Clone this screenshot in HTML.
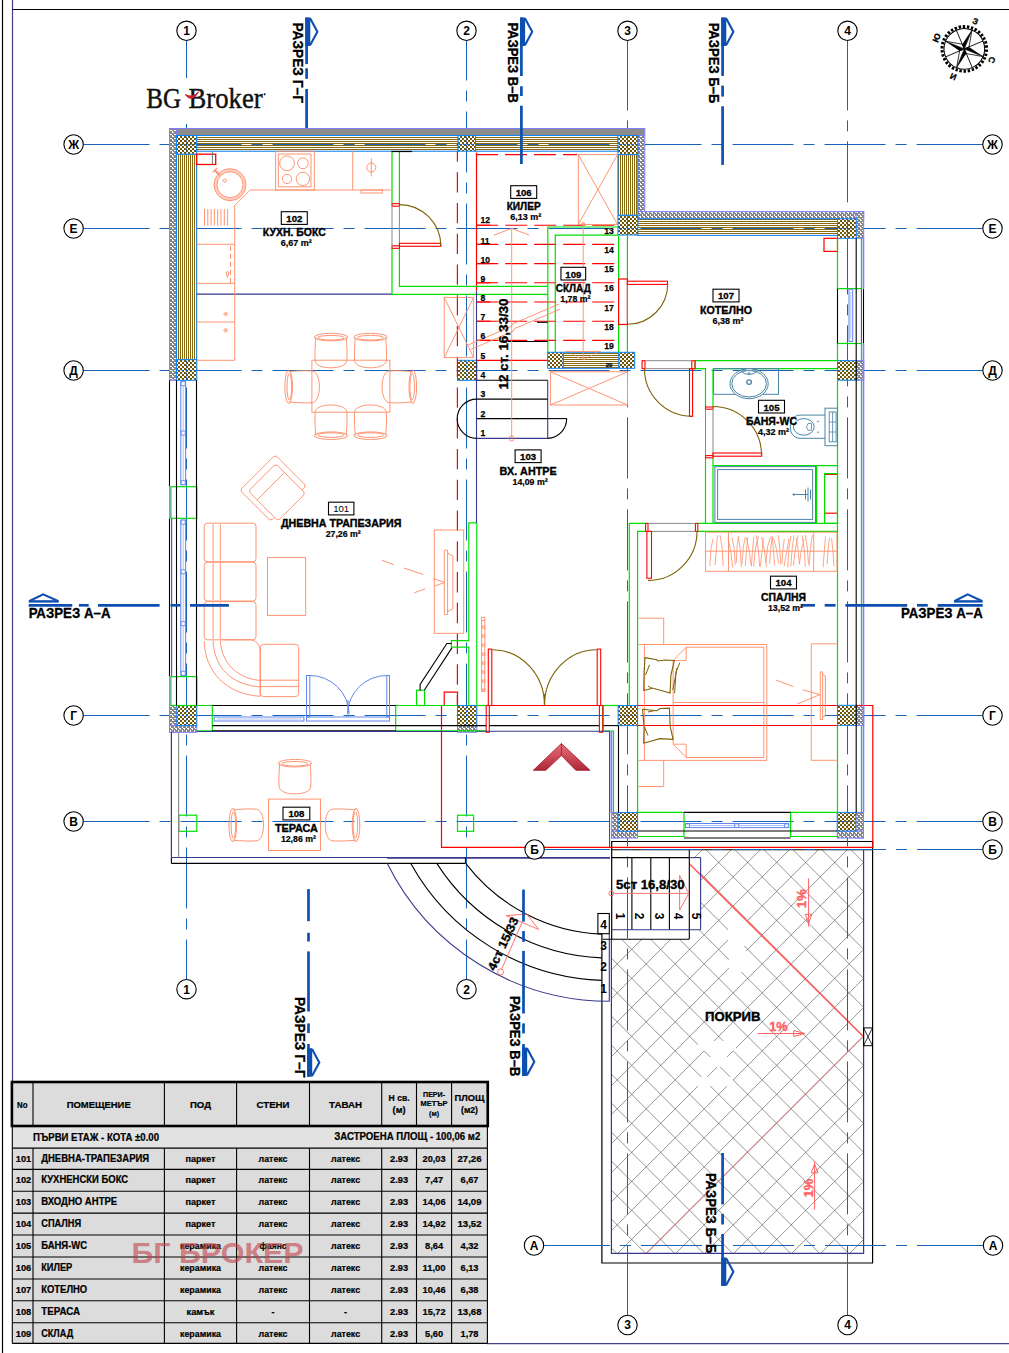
<!DOCTYPE html>
<html lang="bg"><head><meta charset="utf-8"><title>План първи етаж</title>
<style>
html,body{margin:0;padding:0;background:#fff;}
body{width:1009px;height:1353px;overflow:hidden;}
svg{display:block;}
svg text{font-family:"Liberation Sans",sans-serif;}
</style></head><body>
<svg width="1009" height="1353" viewBox="0 0 1009 1353">
<defs>
<pattern id="hs" width="2" height="2" patternUnits="userSpaceOnUse"><rect width="2" height="2" fill="#fff"/><rect y="1" width="2" height="1" fill="#8a6a10"/></pattern>
<pattern id="vs" width="2" height="2" patternUnits="userSpaceOnUse"><rect width="2" height="2" fill="#fff"/><rect x="0" width="1" height="2" fill="#8a6a10"/></pattern>
<pattern id="ck" width="4" height="4" patternUnits="userSpaceOnUse"><rect width="4" height="4" fill="#fff"/><rect width="2" height="2" fill="#735400"/><rect x="2" y="2" width="2" height="2" fill="#735400"/></pattern>
<pattern id="ins" width="4" height="4" patternUnits="userSpaceOnUse"><rect width="4" height="4" fill="#848484"/><rect x="0" y="0" width="1" height="2" fill="#fff"/><rect x="2" y="2" width="1" height="2" fill="#fff"/><rect x="3" y="0" width="1" height="1" fill="#fff"/></pattern>
<pattern id="insv" width="4" height="4" patternUnits="userSpaceOnUse"><rect width="4" height="4" fill="#848484"/><rect x="0" y="0" width="2" height="1" fill="#fff"/><rect x="2" y="2" width="2" height="1" fill="#fff"/><rect x="0" y="3" width="1" height="1" fill="#fff"/></pattern>
<linearGradient id="arr" x1="0" y1="0" x2="0" y2="1"><stop offset="0" stop-color="#e87078"/><stop offset="1" stop-color="#b02838"/></linearGradient>
</defs>
<line x1="2.5" y1="0" x2="2.5" y2="1353" stroke="#000" stroke-width="1.2" />
<line x1="12.5" y1="0" x2="12.5" y2="1082" stroke="#40408c" stroke-width="1.2" />
<line x1="12.5" y1="9.5" x2="1009" y2="9.5" stroke="#000" stroke-width="1.2" />
<line x1="487" y1="1343.6" x2="1009" y2="1343.6" stroke="#40408c" stroke-width="1.3" />
<clipPath id="rc"><path d="M689.3 850 L863.6 850 L863.6 1253.4 L611.4 1253.4 L611.4 939.2 L689.3 939.2 L689.3 929.7 L700.6 929.7 L700.6 857.6 L689.3 857.6 Z"/></clipPath>
<g clip-path="url(#rc)" stroke="#555" stroke-width="0.62">
<line x1="29.3" y1="840" x2="449.3" y2="1260"/>
<line x1="58.3" y1="840" x2="478.3" y2="1260"/>
<line x1="87.3" y1="840" x2="507.3" y2="1260"/>
<line x1="116.3" y1="840" x2="536.3" y2="1260"/>
<line x1="145.3" y1="840" x2="565.3" y2="1260"/>
<line x1="174.3" y1="840" x2="594.3" y2="1260"/>
<line x1="203.3" y1="840" x2="623.3" y2="1260"/>
<line x1="232.3" y1="840" x2="652.3" y2="1260"/>
<line x1="261.3" y1="840" x2="681.3" y2="1260"/>
<line x1="290.3" y1="840" x2="710.3" y2="1260"/>
<line x1="319.3" y1="840" x2="739.3" y2="1260"/>
<line x1="348.3" y1="840" x2="768.3" y2="1260"/>
<line x1="377.3" y1="840" x2="797.3" y2="1260"/>
<line x1="406.3" y1="840" x2="826.3" y2="1260"/>
<line x1="435.3" y1="840" x2="855.3" y2="1260"/>
<line x1="464.3" y1="840" x2="884.3" y2="1260"/>
<line x1="493.3" y1="840" x2="913.3" y2="1260"/>
<line x1="522.3" y1="840" x2="942.3" y2="1260"/>
<line x1="551.3" y1="840" x2="971.3" y2="1260"/>
<line x1="580.3" y1="840" x2="1000.3" y2="1260"/>
<line x1="609.3" y1="840" x2="1029.3" y2="1260"/>
<line x1="638.3" y1="840" x2="1058.3" y2="1260"/>
<line x1="667.3" y1="840" x2="1087.3" y2="1260"/>
<line x1="696.3" y1="840" x2="1116.3" y2="1260"/>
<line x1="725.3" y1="840" x2="1145.3" y2="1260"/>
<line x1="754.3" y1="840" x2="1174.3" y2="1260"/>
<line x1="783.3" y1="840" x2="1203.3" y2="1260"/>
<line x1="812.3" y1="840" x2="1232.3" y2="1260"/>
<line x1="841.3" y1="840" x2="1261.3" y2="1260"/>
<line x1="870.3" y1="840" x2="1290.3" y2="1260"/>
<line x1="899.3" y1="840" x2="1319.3" y2="1260"/>
<line x1="928.3" y1="840" x2="1348.3" y2="1260"/>
<line x1="509.1" y1="840" x2="89.1" y2="1260"/>
<line x1="538.1" y1="840" x2="118.1" y2="1260"/>
<line x1="567.1" y1="840" x2="147.1" y2="1260"/>
<line x1="596.1" y1="840" x2="176.1" y2="1260"/>
<line x1="625.1" y1="840" x2="205.1" y2="1260"/>
<line x1="654.1" y1="840" x2="234.1" y2="1260"/>
<line x1="683.1" y1="840" x2="263.1" y2="1260"/>
<line x1="712.1" y1="840" x2="292.1" y2="1260"/>
<line x1="741.1" y1="840" x2="321.1" y2="1260"/>
<line x1="770.1" y1="840" x2="350.1" y2="1260"/>
<line x1="799.1" y1="840" x2="379.1" y2="1260"/>
<line x1="828.1" y1="840" x2="408.1" y2="1260"/>
<line x1="857.1" y1="840" x2="437.1" y2="1260"/>
<line x1="886.1" y1="840" x2="466.1" y2="1260"/>
<line x1="915.1" y1="840" x2="495.1" y2="1260"/>
<line x1="944.1" y1="840" x2="524.1" y2="1260"/>
<line x1="973.1" y1="840" x2="553.1" y2="1260"/>
<line x1="1002.1" y1="840" x2="582.1" y2="1260"/>
<line x1="1031.1" y1="840" x2="611.1" y2="1260"/>
<line x1="1060.1" y1="840" x2="640.1" y2="1260"/>
<line x1="1089.1" y1="840" x2="669.1" y2="1260"/>
<line x1="1118.1" y1="840" x2="698.1" y2="1260"/>
<line x1="1147.1" y1="840" x2="727.1" y2="1260"/>
<line x1="1176.1" y1="840" x2="756.1" y2="1260"/>
<line x1="1205.1" y1="840" x2="785.1" y2="1260"/>
<line x1="1234.1" y1="840" x2="814.1" y2="1260"/>
<line x1="1263.1" y1="840" x2="843.1" y2="1260"/>
<line x1="1292.1" y1="840" x2="872.1" y2="1260"/>
<line x1="1321.1" y1="840" x2="901.1" y2="1260"/>
<line x1="1350.1" y1="840" x2="930.1" y2="1260"/>
</g>
<rect x="728" y="919" width="19" height="27" fill="#fff"/>
<rect x="729" y="950" width="17" height="22" fill="#fff"/>
<rect x="698" y="1041" width="38" height="10" fill="#fff"/>
<rect x="702" y="1057" width="32" height="10" fill="#fff"/>
<rect x="698" y="1077" width="35" height="9" fill="#fff"/>
<line x1="689.3" y1="863.7" x2="863" y2="1036.2" stroke="#ff5a5a" stroke-width="1.5" />
<line x1="863" y1="1036.2" x2="645.8" y2="1253.4" stroke="#ff8080" stroke-width="0.9" />
<path d="M611.7 939.2 L611.7 841.5 L872.6 841.5 L872.6 1263 L601.9 1263 L601.9 933.7" stroke="#000" stroke-width="1.2" fill="none" />
<line x1="611.7" y1="849.8" x2="872.6" y2="849.8" stroke="#000" stroke-width="1.1" />
<path d="M611.4 939.2 L611.4 1253.4 L863.6 1253.4 L863.6 849.8" stroke="#38388c" stroke-width="1.2" fill="none" />
<rect x="863.6" y="1027.9" width="8.9" height="17.8" stroke="#000" fill="none" stroke-width="1" />
<line x1="863.6" y1="1027.9" x2="872.5" y2="1045.7" stroke="#000" stroke-width="0.8" />
<line x1="872.5" y1="1027.9" x2="863.6" y2="1045.7" stroke="#000" stroke-width="0.8" />
<g>
<line x1="83.3" y1="144.5" x2="149.55" y2="144.5" stroke="#1763b8" stroke-width="1" />
<line x1="159.55" y1="144.5" x2="170.55" y2="144.5" stroke="#1763b8" stroke-width="1" />
<line x1="180.55" y1="144.5" x2="241.55" y2="144.5" stroke="#1763b8" stroke-width="1" />
<line x1="251.55" y1="144.5" x2="262.55" y2="144.5" stroke="#1763b8" stroke-width="1" />
<line x1="272.55" y1="144.5" x2="333.55" y2="144.5" stroke="#1763b8" stroke-width="1" />
<line x1="343.55" y1="144.5" x2="354.55" y2="144.5" stroke="#1763b8" stroke-width="1" />
<line x1="364.55" y1="144.5" x2="425.55" y2="144.5" stroke="#1763b8" stroke-width="1" />
<line x1="435.55" y1="144.5" x2="446.55" y2="144.5" stroke="#1763b8" stroke-width="1" />
<line x1="456.55" y1="144.5" x2="517.55" y2="144.5" stroke="#1763b8" stroke-width="1" />
<line x1="527.55" y1="144.5" x2="538.55" y2="144.5" stroke="#1763b8" stroke-width="1" />
<line x1="548.55" y1="144.5" x2="609.55" y2="144.5" stroke="#1763b8" stroke-width="1" />
<line x1="619.55" y1="144.5" x2="630.55" y2="144.5" stroke="#1763b8" stroke-width="1" />
<line x1="640.55" y1="144.5" x2="701.55" y2="144.5" stroke="#1763b8" stroke-width="1" />
<line x1="711.55" y1="144.5" x2="722.55" y2="144.5" stroke="#1763b8" stroke-width="1" />
<line x1="732.55" y1="144.5" x2="793.55" y2="144.5" stroke="#1763b8" stroke-width="1" />
<line x1="803.55" y1="144.5" x2="814.55" y2="144.5" stroke="#1763b8" stroke-width="1" />
<line x1="824.55" y1="144.5" x2="885.55" y2="144.5" stroke="#1763b8" stroke-width="1" />
<line x1="895.55" y1="144.5" x2="906.55" y2="144.5" stroke="#1763b8" stroke-width="1" />
<line x1="916.55" y1="144.5" x2="982.8" y2="144.5" stroke="#1763b8" stroke-width="1" />
<line x1="83.3" y1="228.5" x2="149.55" y2="228.5" stroke="#1763b8" stroke-width="1" />
<line x1="159.55" y1="228.5" x2="170.55" y2="228.5" stroke="#1763b8" stroke-width="1" />
<line x1="180.55" y1="228.5" x2="241.55" y2="228.5" stroke="#1763b8" stroke-width="1" />
<line x1="251.55" y1="228.5" x2="262.55" y2="228.5" stroke="#1763b8" stroke-width="1" />
<line x1="272.55" y1="228.5" x2="333.55" y2="228.5" stroke="#1763b8" stroke-width="1" />
<line x1="343.55" y1="228.5" x2="354.55" y2="228.5" stroke="#1763b8" stroke-width="1" />
<line x1="364.55" y1="228.5" x2="425.55" y2="228.5" stroke="#1763b8" stroke-width="1" />
<line x1="435.55" y1="228.5" x2="446.55" y2="228.5" stroke="#1763b8" stroke-width="1" />
<line x1="456.55" y1="228.5" x2="517.55" y2="228.5" stroke="#1763b8" stroke-width="1" />
<line x1="527.55" y1="228.5" x2="538.55" y2="228.5" stroke="#1763b8" stroke-width="1" />
<line x1="548.55" y1="228.5" x2="609.55" y2="228.5" stroke="#1763b8" stroke-width="1" />
<line x1="619.55" y1="228.5" x2="630.55" y2="228.5" stroke="#1763b8" stroke-width="1" />
<line x1="640.55" y1="228.5" x2="701.55" y2="228.5" stroke="#1763b8" stroke-width="1" />
<line x1="711.55" y1="228.5" x2="722.55" y2="228.5" stroke="#1763b8" stroke-width="1" />
<line x1="732.55" y1="228.5" x2="793.55" y2="228.5" stroke="#1763b8" stroke-width="1" />
<line x1="803.55" y1="228.5" x2="814.55" y2="228.5" stroke="#1763b8" stroke-width="1" />
<line x1="824.55" y1="228.5" x2="885.55" y2="228.5" stroke="#1763b8" stroke-width="1" />
<line x1="895.55" y1="228.5" x2="906.55" y2="228.5" stroke="#1763b8" stroke-width="1" />
<line x1="916.55" y1="228.5" x2="982.8" y2="228.5" stroke="#1763b8" stroke-width="1" />
<line x1="83.3" y1="370.5" x2="149.55" y2="370.5" stroke="#1763b8" stroke-width="1" />
<line x1="159.55" y1="370.5" x2="170.55" y2="370.5" stroke="#1763b8" stroke-width="1" />
<line x1="180.55" y1="370.5" x2="241.55" y2="370.5" stroke="#1763b8" stroke-width="1" />
<line x1="251.55" y1="370.5" x2="262.55" y2="370.5" stroke="#1763b8" stroke-width="1" />
<line x1="272.55" y1="370.5" x2="333.55" y2="370.5" stroke="#1763b8" stroke-width="1" />
<line x1="343.55" y1="370.5" x2="354.55" y2="370.5" stroke="#1763b8" stroke-width="1" />
<line x1="364.55" y1="370.5" x2="425.55" y2="370.5" stroke="#1763b8" stroke-width="1" />
<line x1="435.55" y1="370.5" x2="446.55" y2="370.5" stroke="#1763b8" stroke-width="1" />
<line x1="456.55" y1="370.5" x2="517.55" y2="370.5" stroke="#1763b8" stroke-width="1" />
<line x1="527.55" y1="370.5" x2="538.55" y2="370.5" stroke="#1763b8" stroke-width="1" />
<line x1="548.55" y1="370.5" x2="609.55" y2="370.5" stroke="#1763b8" stroke-width="1" />
<line x1="619.55" y1="370.5" x2="630.55" y2="370.5" stroke="#1763b8" stroke-width="1" />
<line x1="640.55" y1="370.5" x2="701.55" y2="370.5" stroke="#1763b8" stroke-width="1" />
<line x1="711.55" y1="370.5" x2="722.55" y2="370.5" stroke="#1763b8" stroke-width="1" />
<line x1="732.55" y1="370.5" x2="793.55" y2="370.5" stroke="#1763b8" stroke-width="1" />
<line x1="803.55" y1="370.5" x2="814.55" y2="370.5" stroke="#1763b8" stroke-width="1" />
<line x1="824.55" y1="370.5" x2="885.55" y2="370.5" stroke="#1763b8" stroke-width="1" />
<line x1="895.55" y1="370.5" x2="906.55" y2="370.5" stroke="#1763b8" stroke-width="1" />
<line x1="916.55" y1="370.5" x2="982.8" y2="370.5" stroke="#1763b8" stroke-width="1" />
<line x1="83.3" y1="715.5" x2="149.55" y2="715.5" stroke="#1763b8" stroke-width="1" />
<line x1="159.55" y1="715.5" x2="170.55" y2="715.5" stroke="#1763b8" stroke-width="1" />
<line x1="180.55" y1="715.5" x2="241.55" y2="715.5" stroke="#1763b8" stroke-width="1" />
<line x1="251.55" y1="715.5" x2="262.55" y2="715.5" stroke="#1763b8" stroke-width="1" />
<line x1="272.55" y1="715.5" x2="333.55" y2="715.5" stroke="#1763b8" stroke-width="1" />
<line x1="343.55" y1="715.5" x2="354.55" y2="715.5" stroke="#1763b8" stroke-width="1" />
<line x1="364.55" y1="715.5" x2="425.55" y2="715.5" stroke="#1763b8" stroke-width="1" />
<line x1="435.55" y1="715.5" x2="446.55" y2="715.5" stroke="#1763b8" stroke-width="1" />
<line x1="456.55" y1="715.5" x2="517.55" y2="715.5" stroke="#1763b8" stroke-width="1" />
<line x1="527.55" y1="715.5" x2="538.55" y2="715.5" stroke="#1763b8" stroke-width="1" />
<line x1="548.55" y1="715.5" x2="609.55" y2="715.5" stroke="#1763b8" stroke-width="1" />
<line x1="619.55" y1="715.5" x2="630.55" y2="715.5" stroke="#1763b8" stroke-width="1" />
<line x1="640.55" y1="715.5" x2="701.55" y2="715.5" stroke="#1763b8" stroke-width="1" />
<line x1="711.55" y1="715.5" x2="722.55" y2="715.5" stroke="#1763b8" stroke-width="1" />
<line x1="732.55" y1="715.5" x2="793.55" y2="715.5" stroke="#1763b8" stroke-width="1" />
<line x1="803.55" y1="715.5" x2="814.55" y2="715.5" stroke="#1763b8" stroke-width="1" />
<line x1="824.55" y1="715.5" x2="885.55" y2="715.5" stroke="#1763b8" stroke-width="1" />
<line x1="895.55" y1="715.5" x2="906.55" y2="715.5" stroke="#1763b8" stroke-width="1" />
<line x1="916.55" y1="715.5" x2="982.8" y2="715.5" stroke="#1763b8" stroke-width="1" />
<line x1="83.3" y1="821.5" x2="149.55" y2="821.5" stroke="#1763b8" stroke-width="1" />
<line x1="159.55" y1="821.5" x2="170.55" y2="821.5" stroke="#1763b8" stroke-width="1" />
<line x1="180.55" y1="821.5" x2="241.55" y2="821.5" stroke="#1763b8" stroke-width="1" />
<line x1="251.55" y1="821.5" x2="262.55" y2="821.5" stroke="#1763b8" stroke-width="1" />
<line x1="272.55" y1="821.5" x2="333.55" y2="821.5" stroke="#1763b8" stroke-width="1" />
<line x1="343.55" y1="821.5" x2="354.55" y2="821.5" stroke="#1763b8" stroke-width="1" />
<line x1="364.55" y1="821.5" x2="425.55" y2="821.5" stroke="#1763b8" stroke-width="1" />
<line x1="435.55" y1="821.5" x2="446.55" y2="821.5" stroke="#1763b8" stroke-width="1" />
<line x1="456.55" y1="821.5" x2="517.55" y2="821.5" stroke="#1763b8" stroke-width="1" />
<line x1="527.55" y1="821.5" x2="538.55" y2="821.5" stroke="#1763b8" stroke-width="1" />
<line x1="548.55" y1="821.5" x2="609.55" y2="821.5" stroke="#1763b8" stroke-width="1" />
<line x1="619.55" y1="821.5" x2="630.55" y2="821.5" stroke="#1763b8" stroke-width="1" />
<line x1="640.55" y1="821.5" x2="701.55" y2="821.5" stroke="#1763b8" stroke-width="1" />
<line x1="711.55" y1="821.5" x2="722.55" y2="821.5" stroke="#1763b8" stroke-width="1" />
<line x1="732.55" y1="821.5" x2="793.55" y2="821.5" stroke="#1763b8" stroke-width="1" />
<line x1="803.55" y1="821.5" x2="814.55" y2="821.5" stroke="#1763b8" stroke-width="1" />
<line x1="824.55" y1="821.5" x2="885.55" y2="821.5" stroke="#1763b8" stroke-width="1" />
<line x1="895.55" y1="821.5" x2="906.55" y2="821.5" stroke="#1763b8" stroke-width="1" />
<line x1="916.55" y1="821.5" x2="982.8" y2="821.5" stroke="#1763b8" stroke-width="1" />
<line x1="544.3" y1="849.5" x2="610.05" y2="849.5" stroke="#1763b8" stroke-width="1" />
<line x1="620.05" y1="849.5" x2="631.05" y2="849.5" stroke="#1763b8" stroke-width="1" />
<line x1="641.05" y1="849.5" x2="702.05" y2="849.5" stroke="#1763b8" stroke-width="1" />
<line x1="712.05" y1="849.5" x2="723.05" y2="849.5" stroke="#1763b8" stroke-width="1" />
<line x1="733.05" y1="849.5" x2="794.05" y2="849.5" stroke="#1763b8" stroke-width="1" />
<line x1="804.05" y1="849.5" x2="815.05" y2="849.5" stroke="#1763b8" stroke-width="1" />
<line x1="825.05" y1="849.5" x2="886.05" y2="849.5" stroke="#1763b8" stroke-width="1" />
<line x1="896.05" y1="849.5" x2="907.05" y2="849.5" stroke="#1763b8" stroke-width="1" />
<line x1="917.05" y1="849.5" x2="982.8" y2="849.5" stroke="#1763b8" stroke-width="1" />
<line x1="543.7" y1="1245.5" x2="610" y2="1245.5" stroke="#1763b8" stroke-width="1" />
<line x1="620" y1="1245.5" x2="631" y2="1245.5" stroke="#1763b8" stroke-width="1" />
<line x1="641" y1="1245.5" x2="702" y2="1245.5" stroke="#1763b8" stroke-width="1" />
<line x1="712" y1="1245.5" x2="723" y2="1245.5" stroke="#1763b8" stroke-width="1" />
<line x1="733" y1="1245.5" x2="794" y2="1245.5" stroke="#1763b8" stroke-width="1" />
<line x1="804" y1="1245.5" x2="815" y2="1245.5" stroke="#1763b8" stroke-width="1" />
<line x1="825" y1="1245.5" x2="886" y2="1245.5" stroke="#1763b8" stroke-width="1" />
<line x1="896" y1="1245.5" x2="907" y2="1245.5" stroke="#1763b8" stroke-width="1" />
<line x1="917" y1="1245.5" x2="983.3" y2="1245.5" stroke="#1763b8" stroke-width="1" />
<line x1="186.5" y1="40.5" x2="186.5" y2="80.5" stroke="#1763b8" stroke-width="1" />
<line x1="186.5" y1="90.5" x2="186.5" y2="101.5" stroke="#1763b8" stroke-width="1" />
<line x1="186.5" y1="111.5" x2="186.5" y2="172.5" stroke="#1763b8" stroke-width="1" />
<line x1="186.5" y1="182.5" x2="186.5" y2="193.5" stroke="#1763b8" stroke-width="1" />
<line x1="186.5" y1="203.5" x2="186.5" y2="264.5" stroke="#1763b8" stroke-width="1" />
<line x1="186.5" y1="274.5" x2="186.5" y2="285.5" stroke="#1763b8" stroke-width="1" />
<line x1="186.5" y1="295.5" x2="186.5" y2="356.5" stroke="#1763b8" stroke-width="1" />
<line x1="186.5" y1="366.5" x2="186.5" y2="377.5" stroke="#1763b8" stroke-width="1" />
<line x1="186.5" y1="387.5" x2="186.5" y2="448.5" stroke="#1763b8" stroke-width="1" />
<line x1="186.5" y1="458.5" x2="186.5" y2="469.5" stroke="#1763b8" stroke-width="1" />
<line x1="186.5" y1="479.5" x2="186.5" y2="540.5" stroke="#1763b8" stroke-width="1" />
<line x1="186.5" y1="550.5" x2="186.5" y2="561.5" stroke="#1763b8" stroke-width="1" />
<line x1="186.5" y1="571.5" x2="186.5" y2="632.5" stroke="#1763b8" stroke-width="1" />
<line x1="186.5" y1="642.5" x2="186.5" y2="653.5" stroke="#1763b8" stroke-width="1" />
<line x1="186.5" y1="663.5" x2="186.5" y2="724.5" stroke="#1763b8" stroke-width="1" />
<line x1="186.5" y1="734.5" x2="186.5" y2="745.5" stroke="#1763b8" stroke-width="1" />
<line x1="186.5" y1="755.5" x2="186.5" y2="816.5" stroke="#1763b8" stroke-width="1" />
<line x1="186.5" y1="826.5" x2="186.5" y2="837.5" stroke="#1763b8" stroke-width="1" />
<line x1="186.5" y1="847.5" x2="186.5" y2="908.5" stroke="#1763b8" stroke-width="1" />
<line x1="186.5" y1="918.5" x2="186.5" y2="929.5" stroke="#1763b8" stroke-width="1" />
<line x1="186.5" y1="939.5" x2="186.5" y2="979.5" stroke="#1763b8" stroke-width="1" />
<line x1="466.5" y1="40.5" x2="466.5" y2="80.5" stroke="#1763b8" stroke-width="1" />
<line x1="466.5" y1="90.5" x2="466.5" y2="101.5" stroke="#1763b8" stroke-width="1" />
<line x1="466.5" y1="111.5" x2="466.5" y2="172.5" stroke="#1763b8" stroke-width="1" />
<line x1="466.5" y1="182.5" x2="466.5" y2="193.5" stroke="#1763b8" stroke-width="1" />
<line x1="466.5" y1="203.5" x2="466.5" y2="264.5" stroke="#1763b8" stroke-width="1" />
<line x1="466.5" y1="274.5" x2="466.5" y2="285.5" stroke="#1763b8" stroke-width="1" />
<line x1="466.5" y1="295.5" x2="466.5" y2="356.5" stroke="#1763b8" stroke-width="1" />
<line x1="466.5" y1="366.5" x2="466.5" y2="377.5" stroke="#1763b8" stroke-width="1" />
<line x1="466.5" y1="387.5" x2="466.5" y2="448.5" stroke="#1763b8" stroke-width="1" />
<line x1="466.5" y1="458.5" x2="466.5" y2="469.5" stroke="#1763b8" stroke-width="1" />
<line x1="466.5" y1="479.5" x2="466.5" y2="540.5" stroke="#1763b8" stroke-width="1" />
<line x1="466.5" y1="550.5" x2="466.5" y2="561.5" stroke="#1763b8" stroke-width="1" />
<line x1="466.5" y1="571.5" x2="466.5" y2="632.5" stroke="#1763b8" stroke-width="1" />
<line x1="466.5" y1="642.5" x2="466.5" y2="653.5" stroke="#1763b8" stroke-width="1" />
<line x1="466.5" y1="663.5" x2="466.5" y2="724.5" stroke="#1763b8" stroke-width="1" />
<line x1="466.5" y1="734.5" x2="466.5" y2="745.5" stroke="#1763b8" stroke-width="1" />
<line x1="466.5" y1="755.5" x2="466.5" y2="816.5" stroke="#1763b8" stroke-width="1" />
<line x1="466.5" y1="826.5" x2="466.5" y2="837.5" stroke="#1763b8" stroke-width="1" />
<line x1="466.5" y1="847.5" x2="466.5" y2="908.5" stroke="#1763b8" stroke-width="1" />
<line x1="466.5" y1="918.5" x2="466.5" y2="929.5" stroke="#1763b8" stroke-width="1" />
<line x1="466.5" y1="939.5" x2="466.5" y2="979.5" stroke="#1763b8" stroke-width="1" />
<line x1="627.5" y1="40.5" x2="627.5" y2="110.4" stroke="#1763b8" stroke-width="1" />
<line x1="627.5" y1="120.4" x2="627.5" y2="131.4" stroke="#1763b8" stroke-width="1" />
<line x1="627.5" y1="141.4" x2="627.5" y2="202.4" stroke="#1763b8" stroke-width="1" />
<line x1="627.5" y1="212.4" x2="627.5" y2="223.4" stroke="#1763b8" stroke-width="1" />
<line x1="627.5" y1="233.4" x2="627.5" y2="294.4" stroke="#1763b8" stroke-width="1" />
<line x1="627.5" y1="304.4" x2="627.5" y2="315.4" stroke="#1763b8" stroke-width="1" />
<line x1="627.5" y1="325.4" x2="627.5" y2="386.4" stroke="#1763b8" stroke-width="1" />
<line x1="627.5" y1="396.4" x2="627.5" y2="407.4" stroke="#1763b8" stroke-width="1" />
<line x1="627.5" y1="417.4" x2="627.5" y2="478.4" stroke="#1763b8" stroke-width="1" />
<line x1="627.5" y1="488.4" x2="627.5" y2="499.4" stroke="#1763b8" stroke-width="1" />
<line x1="627.5" y1="509.4" x2="627.5" y2="570.4" stroke="#1763b8" stroke-width="1" />
<line x1="627.5" y1="580.4" x2="627.5" y2="591.4" stroke="#1763b8" stroke-width="1" />
<line x1="627.5" y1="601.4" x2="627.5" y2="662.4" stroke="#1763b8" stroke-width="1" />
<line x1="627.5" y1="672.4" x2="627.5" y2="683.4" stroke="#1763b8" stroke-width="1" />
<line x1="627.5" y1="693.4" x2="627.5" y2="754.4" stroke="#1763b8" stroke-width="1" />
<line x1="627.5" y1="764.4" x2="627.5" y2="775.4" stroke="#1763b8" stroke-width="1" />
<line x1="627.5" y1="785.4" x2="627.5" y2="846.4" stroke="#1763b8" stroke-width="1" />
<line x1="627.5" y1="856.4" x2="627.5" y2="867.4" stroke="#1763b8" stroke-width="1" />
<line x1="627.5" y1="877.4" x2="627.5" y2="938.4" stroke="#1763b8" stroke-width="1" />
<line x1="627.5" y1="948.4" x2="627.5" y2="959.4" stroke="#1763b8" stroke-width="1" />
<line x1="627.5" y1="969.4" x2="627.5" y2="1030.4" stroke="#1763b8" stroke-width="1" />
<line x1="627.5" y1="1040.4" x2="627.5" y2="1051.4" stroke="#1763b8" stroke-width="1" />
<line x1="627.5" y1="1061.4" x2="627.5" y2="1122.4" stroke="#1763b8" stroke-width="1" />
<line x1="627.5" y1="1132.4" x2="627.5" y2="1143.4" stroke="#1763b8" stroke-width="1" />
<line x1="627.5" y1="1153.4" x2="627.5" y2="1214.4" stroke="#1763b8" stroke-width="1" />
<line x1="627.5" y1="1224.4" x2="627.5" y2="1235.4" stroke="#1763b8" stroke-width="1" />
<line x1="627.5" y1="1245.4" x2="627.5" y2="1315.3" stroke="#1763b8" stroke-width="1" />
<line x1="847.5" y1="40.5" x2="847.5" y2="110.4" stroke="#1763b8" stroke-width="1" />
<line x1="847.5" y1="120.4" x2="847.5" y2="131.4" stroke="#1763b8" stroke-width="1" />
<line x1="847.5" y1="141.4" x2="847.5" y2="202.4" stroke="#1763b8" stroke-width="1" />
<line x1="847.5" y1="212.4" x2="847.5" y2="223.4" stroke="#1763b8" stroke-width="1" />
<line x1="847.5" y1="233.4" x2="847.5" y2="294.4" stroke="#1763b8" stroke-width="1" />
<line x1="847.5" y1="304.4" x2="847.5" y2="315.4" stroke="#1763b8" stroke-width="1" />
<line x1="847.5" y1="325.4" x2="847.5" y2="386.4" stroke="#1763b8" stroke-width="1" />
<line x1="847.5" y1="396.4" x2="847.5" y2="407.4" stroke="#1763b8" stroke-width="1" />
<line x1="847.5" y1="417.4" x2="847.5" y2="478.4" stroke="#1763b8" stroke-width="1" />
<line x1="847.5" y1="488.4" x2="847.5" y2="499.4" stroke="#1763b8" stroke-width="1" />
<line x1="847.5" y1="509.4" x2="847.5" y2="570.4" stroke="#1763b8" stroke-width="1" />
<line x1="847.5" y1="580.4" x2="847.5" y2="591.4" stroke="#1763b8" stroke-width="1" />
<line x1="847.5" y1="601.4" x2="847.5" y2="662.4" stroke="#1763b8" stroke-width="1" />
<line x1="847.5" y1="672.4" x2="847.5" y2="683.4" stroke="#1763b8" stroke-width="1" />
<line x1="847.5" y1="693.4" x2="847.5" y2="754.4" stroke="#1763b8" stroke-width="1" />
<line x1="847.5" y1="764.4" x2="847.5" y2="775.4" stroke="#1763b8" stroke-width="1" />
<line x1="847.5" y1="785.4" x2="847.5" y2="846.4" stroke="#1763b8" stroke-width="1" />
<line x1="847.5" y1="856.4" x2="847.5" y2="867.4" stroke="#1763b8" stroke-width="1" />
<line x1="847.5" y1="877.4" x2="847.5" y2="938.4" stroke="#1763b8" stroke-width="1" />
<line x1="847.5" y1="948.4" x2="847.5" y2="959.4" stroke="#1763b8" stroke-width="1" />
<line x1="847.5" y1="969.4" x2="847.5" y2="1030.4" stroke="#1763b8" stroke-width="1" />
<line x1="847.5" y1="1040.4" x2="847.5" y2="1051.4" stroke="#1763b8" stroke-width="1" />
<line x1="847.5" y1="1061.4" x2="847.5" y2="1122.4" stroke="#1763b8" stroke-width="1" />
<line x1="847.5" y1="1132.4" x2="847.5" y2="1143.4" stroke="#1763b8" stroke-width="1" />
<line x1="847.5" y1="1153.4" x2="847.5" y2="1214.4" stroke="#1763b8" stroke-width="1" />
<line x1="847.5" y1="1224.4" x2="847.5" y2="1235.4" stroke="#1763b8" stroke-width="1" />
<line x1="847.5" y1="1245.4" x2="847.5" y2="1315.3" stroke="#1763b8" stroke-width="1" />
</g>
<rect x="169.5" y="128.5" width="475.3" height="7" fill="#8c8c8c" stroke="#8080ff"/>
<rect x="169.5" y="128.5" width="7" height="251.8" stroke="#8080ff" fill="url(#insv)" stroke-width="1" />
<rect x="638" y="135.5" width="6.8" height="82.5" stroke="#8080ff" fill="url(#insv)" stroke-width="1" />
<rect x="638" y="211.6" width="225.7" height="6.9" stroke="#8080ff" fill="url(#ins)" stroke-width="1" />
<rect x="856.2" y="211.6" width="7.5" height="26.7" stroke="#8080ff" fill="url(#insv)" stroke-width="1" />
<rect x="856.2" y="360.6" width="7.5" height="19.6" stroke="#8080ff" fill="url(#insv)" stroke-width="1" />
<rect x="856.2" y="705.3" width="7.5" height="20.1" stroke="#8080ff" fill="url(#insv)" stroke-width="1" />
<rect x="855.8" y="812.4" width="7.7" height="25.6" stroke="#8080ff" fill="url(#insv)" stroke-width="1" />
<rect x="837.2" y="831" width="26.3" height="7" stroke="#8080ff" fill="url(#ins)" stroke-width="1" />
<rect x="611.7" y="812.4" width="6.3" height="25.6" stroke="#8080ff" fill="url(#insv)" stroke-width="1" />
<rect x="611.7" y="831" width="25.8" height="7" stroke="#8080ff" fill="url(#ins)" stroke-width="1" />
<rect x="169.5" y="705.5" width="7.3" height="26.8" stroke="#8080ff" fill="url(#insv)" stroke-width="1" />
<rect x="169.5" y="725.6" width="27.3" height="6.7" stroke="#8080ff" fill="url(#ins)" stroke-width="1" />
<rect x="457.5" y="725.6" width="19.3" height="6.7" stroke="#8080ff" fill="url(#ins)" stroke-width="1" />
<rect x="196.6" y="135.5" width="261.5" height="15.7" stroke="#0a84ff" fill="url(#hs)" stroke-width="1" />
<rect x="475.5" y="135.5" width="142.5" height="15.7" stroke="#0a84ff" fill="url(#hs)" stroke-width="1" />
<rect x="176.5" y="154.2" width="20.2" height="205.5" stroke="#0a84ff" fill="url(#vs)" stroke-width="1" />
<rect x="618" y="154.6" width="19.8" height="60.7" stroke="#0a84ff" fill="url(#vs)" stroke-width="1" />
<rect x="637.6" y="218.8" width="199.9" height="16.6" stroke="#0a84ff" fill="url(#hs)" stroke-width="1" />
<rect x="563.2" y="352.3" width="55.7" height="16" stroke="#0a84ff" fill="url(#hs)" stroke-width="1" />
<rect x="176.5" y="135.5" width="20.1" height="18.7" stroke="#0a84ff" fill="url(#ck)" stroke-width="1" />
<rect x="458.1" y="135.5" width="17.4" height="15.7" stroke="#0a84ff" fill="url(#ck)" stroke-width="1" />
<rect x="618" y="135.5" width="19.8" height="19.1" stroke="#0a84ff" fill="url(#ck)" stroke-width="1" />
<rect x="618" y="215.3" width="19.8" height="19.7" stroke="#0a84ff" fill="url(#ck)" stroke-width="1" />
<rect x="837.5" y="218.8" width="18.7" height="19.5" stroke="#0a84ff" fill="url(#ck)" stroke-width="1" />
<rect x="176.5" y="359.7" width="20.3" height="20.6" stroke="#0a84ff" fill="url(#ck)" stroke-width="1" />
<rect x="457.5" y="360.3" width="19.3" height="20" stroke="#0a84ff" fill="url(#ck)" stroke-width="1" />
<rect x="547.7" y="352.3" width="15.5" height="16" stroke="#0a84ff" fill="url(#ck)" stroke-width="1" />
<rect x="618.9" y="352.3" width="15.8" height="16" stroke="#0a84ff" fill="url(#ck)" stroke-width="1" />
<rect x="837.5" y="360.6" width="18.7" height="19.6" stroke="#0a84ff" fill="url(#ck)" stroke-width="1" />
<rect x="176.8" y="705.5" width="20" height="20.1" stroke="#0a84ff" fill="url(#ck)" stroke-width="1" />
<rect x="457.5" y="705.5" width="19.3" height="20.1" stroke="#0a84ff" fill="url(#ck)" stroke-width="1" />
<rect x="618.1" y="705.5" width="19.5" height="20.1" stroke="#0a84ff" fill="url(#ck)" stroke-width="1" />
<rect x="837.5" y="705.3" width="18.7" height="20.1" stroke="#0a84ff" fill="url(#ck)" stroke-width="1" />
<rect x="618.1" y="812.5" width="19.5" height="18.8" stroke="#0a84ff" fill="url(#ck)" stroke-width="1" />
<rect x="837.2" y="812.4" width="18.6" height="18.6" stroke="#0a84ff" fill="url(#ck)" stroke-width="1" />
<line x1="186.5" y1="136.5" x2="186.5" y2="153.2" stroke="#1763b8" stroke-width="1" stroke-dasharray="2 2"/>
<line x1="177.5" y1="144.5" x2="195.6" y2="144.5" stroke="#1763b8" stroke-width="1" stroke-dasharray="2 2"/>
<line x1="466.5" y1="136.5" x2="466.5" y2="150.2" stroke="#1763b8" stroke-width="1" stroke-dasharray="2 2"/>
<line x1="459.1" y1="144.5" x2="474.5" y2="144.5" stroke="#1763b8" stroke-width="1" stroke-dasharray="2 2"/>
<line x1="627.5" y1="136.5" x2="627.5" y2="153.6" stroke="#1763b8" stroke-width="1" stroke-dasharray="2 2"/>
<line x1="619" y1="144.5" x2="636.8" y2="144.5" stroke="#1763b8" stroke-width="1" stroke-dasharray="2 2"/>
<line x1="627.5" y1="216.3" x2="627.5" y2="234" stroke="#1763b8" stroke-width="1" stroke-dasharray="2 2"/>
<line x1="619" y1="228.5" x2="636.8" y2="228.5" stroke="#1763b8" stroke-width="1" stroke-dasharray="2 2"/>
<line x1="847.5" y1="219.8" x2="847.5" y2="237.3" stroke="#1763b8" stroke-width="1" stroke-dasharray="2 2"/>
<line x1="838.5" y1="228.5" x2="855.2" y2="228.5" stroke="#1763b8" stroke-width="1" stroke-dasharray="2 2"/>
<line x1="186.5" y1="360.7" x2="186.5" y2="379.3" stroke="#1763b8" stroke-width="1" stroke-dasharray="2 2"/>
<line x1="177.5" y1="370.5" x2="195.8" y2="370.5" stroke="#1763b8" stroke-width="1" stroke-dasharray="2 2"/>
<line x1="466.5" y1="361.3" x2="466.5" y2="379.3" stroke="#1763b8" stroke-width="1" stroke-dasharray="2 2"/>
<line x1="458.5" y1="370.5" x2="475.8" y2="370.5" stroke="#1763b8" stroke-width="1" stroke-dasharray="2 2"/>
<line x1="627.5" y1="353.3" x2="627.5" y2="367.3" stroke="#1763b8" stroke-width="1" stroke-dasharray="2 2"/>
<line x1="847.5" y1="361.6" x2="847.5" y2="379.2" stroke="#1763b8" stroke-width="1" stroke-dasharray="2 2"/>
<line x1="838.5" y1="370.5" x2="855.2" y2="370.5" stroke="#1763b8" stroke-width="1" stroke-dasharray="2 2"/>
<line x1="186.5" y1="706.5" x2="186.5" y2="724.6" stroke="#1763b8" stroke-width="1" stroke-dasharray="2 2"/>
<line x1="177.8" y1="715.5" x2="195.8" y2="715.5" stroke="#1763b8" stroke-width="1" stroke-dasharray="2 2"/>
<line x1="466.5" y1="706.5" x2="466.5" y2="724.6" stroke="#1763b8" stroke-width="1" stroke-dasharray="2 2"/>
<line x1="458.5" y1="715.5" x2="475.8" y2="715.5" stroke="#1763b8" stroke-width="1" stroke-dasharray="2 2"/>
<line x1="627.5" y1="706.5" x2="627.5" y2="724.6" stroke="#1763b8" stroke-width="1" stroke-dasharray="2 2"/>
<line x1="619.1" y1="715.5" x2="636.6" y2="715.5" stroke="#1763b8" stroke-width="1" stroke-dasharray="2 2"/>
<line x1="847.5" y1="706.3" x2="847.5" y2="724.4" stroke="#1763b8" stroke-width="1" stroke-dasharray="2 2"/>
<line x1="838.5" y1="715.5" x2="855.2" y2="715.5" stroke="#1763b8" stroke-width="1" stroke-dasharray="2 2"/>
<line x1="627.5" y1="813.5" x2="627.5" y2="830.3" stroke="#1763b8" stroke-width="1" stroke-dasharray="2 2"/>
<line x1="619.1" y1="821.5" x2="636.6" y2="821.5" stroke="#1763b8" stroke-width="1" stroke-dasharray="2 2"/>
<line x1="847.5" y1="813.4" x2="847.5" y2="830" stroke="#1763b8" stroke-width="1" stroke-dasharray="2 2"/>
<line x1="838.2" y1="821.5" x2="854.8" y2="821.5" stroke="#1763b8" stroke-width="1" stroke-dasharray="2 2"/>
<clipPath id="hw"><rect x="196.6" y="136" width="261.5" height="14.7"/><rect x="475.5" y="136" width="142.5" height="14.7"/><rect x="637.6" y="219.3" width="199.9" height="15.6"/><rect x="563.2" y="352.8" width="55.7" height="15"/></clipPath>
<line x1="197.1" y1="144.5" x2="457.6" y2="144.5" stroke="#fff" stroke-width="1" />
<line x1="476" y1="144.5" x2="617.5" y2="144.5" stroke="#fff" stroke-width="1" />
<line x1="638.1" y1="228.5" x2="837" y2="228.5" stroke="#fff" stroke-width="1" />
<g clip-path="url(#hw)">
<line x1="83.3" y1="144.5" x2="149.55" y2="144.5" stroke="#1763b8" stroke-width="1" />
<line x1="159.55" y1="144.5" x2="170.55" y2="144.5" stroke="#1763b8" stroke-width="1" />
<line x1="180.55" y1="144.5" x2="241.55" y2="144.5" stroke="#1763b8" stroke-width="1" />
<line x1="251.55" y1="144.5" x2="262.55" y2="144.5" stroke="#1763b8" stroke-width="1" />
<line x1="272.55" y1="144.5" x2="333.55" y2="144.5" stroke="#1763b8" stroke-width="1" />
<line x1="343.55" y1="144.5" x2="354.55" y2="144.5" stroke="#1763b8" stroke-width="1" />
<line x1="364.55" y1="144.5" x2="425.55" y2="144.5" stroke="#1763b8" stroke-width="1" />
<line x1="435.55" y1="144.5" x2="446.55" y2="144.5" stroke="#1763b8" stroke-width="1" />
<line x1="456.55" y1="144.5" x2="517.55" y2="144.5" stroke="#1763b8" stroke-width="1" />
<line x1="527.55" y1="144.5" x2="538.55" y2="144.5" stroke="#1763b8" stroke-width="1" />
<line x1="548.55" y1="144.5" x2="609.55" y2="144.5" stroke="#1763b8" stroke-width="1" />
<line x1="619.55" y1="144.5" x2="630.55" y2="144.5" stroke="#1763b8" stroke-width="1" />
<line x1="640.55" y1="144.5" x2="701.55" y2="144.5" stroke="#1763b8" stroke-width="1" />
<line x1="711.55" y1="144.5" x2="722.55" y2="144.5" stroke="#1763b8" stroke-width="1" />
<line x1="732.55" y1="144.5" x2="793.55" y2="144.5" stroke="#1763b8" stroke-width="1" />
<line x1="803.55" y1="144.5" x2="814.55" y2="144.5" stroke="#1763b8" stroke-width="1" />
<line x1="824.55" y1="144.5" x2="885.55" y2="144.5" stroke="#1763b8" stroke-width="1" />
<line x1="895.55" y1="144.5" x2="906.55" y2="144.5" stroke="#1763b8" stroke-width="1" />
<line x1="916.55" y1="144.5" x2="982.8" y2="144.5" stroke="#1763b8" stroke-width="1" />
<line x1="83.3" y1="228.5" x2="149.55" y2="228.5" stroke="#1763b8" stroke-width="1" />
<line x1="159.55" y1="228.5" x2="170.55" y2="228.5" stroke="#1763b8" stroke-width="1" />
<line x1="180.55" y1="228.5" x2="241.55" y2="228.5" stroke="#1763b8" stroke-width="1" />
<line x1="251.55" y1="228.5" x2="262.55" y2="228.5" stroke="#1763b8" stroke-width="1" />
<line x1="272.55" y1="228.5" x2="333.55" y2="228.5" stroke="#1763b8" stroke-width="1" />
<line x1="343.55" y1="228.5" x2="354.55" y2="228.5" stroke="#1763b8" stroke-width="1" />
<line x1="364.55" y1="228.5" x2="425.55" y2="228.5" stroke="#1763b8" stroke-width="1" />
<line x1="435.55" y1="228.5" x2="446.55" y2="228.5" stroke="#1763b8" stroke-width="1" />
<line x1="456.55" y1="228.5" x2="517.55" y2="228.5" stroke="#1763b8" stroke-width="1" />
<line x1="527.55" y1="228.5" x2="538.55" y2="228.5" stroke="#1763b8" stroke-width="1" />
<line x1="548.55" y1="228.5" x2="609.55" y2="228.5" stroke="#1763b8" stroke-width="1" />
<line x1="619.55" y1="228.5" x2="630.55" y2="228.5" stroke="#1763b8" stroke-width="1" />
<line x1="640.55" y1="228.5" x2="701.55" y2="228.5" stroke="#1763b8" stroke-width="1" />
<line x1="711.55" y1="228.5" x2="722.55" y2="228.5" stroke="#1763b8" stroke-width="1" />
<line x1="732.55" y1="228.5" x2="793.55" y2="228.5" stroke="#1763b8" stroke-width="1" />
<line x1="803.55" y1="228.5" x2="814.55" y2="228.5" stroke="#1763b8" stroke-width="1" />
<line x1="824.55" y1="228.5" x2="885.55" y2="228.5" stroke="#1763b8" stroke-width="1" />
<line x1="895.55" y1="228.5" x2="906.55" y2="228.5" stroke="#1763b8" stroke-width="1" />
<line x1="916.55" y1="228.5" x2="982.8" y2="228.5" stroke="#1763b8" stroke-width="1" />
<line x1="83.3" y1="370.5" x2="149.55" y2="370.5" stroke="#1763b8" stroke-width="1" />
<line x1="159.55" y1="370.5" x2="170.55" y2="370.5" stroke="#1763b8" stroke-width="1" />
<line x1="180.55" y1="370.5" x2="241.55" y2="370.5" stroke="#1763b8" stroke-width="1" />
<line x1="251.55" y1="370.5" x2="262.55" y2="370.5" stroke="#1763b8" stroke-width="1" />
<line x1="272.55" y1="370.5" x2="333.55" y2="370.5" stroke="#1763b8" stroke-width="1" />
<line x1="343.55" y1="370.5" x2="354.55" y2="370.5" stroke="#1763b8" stroke-width="1" />
<line x1="364.55" y1="370.5" x2="425.55" y2="370.5" stroke="#1763b8" stroke-width="1" />
<line x1="435.55" y1="370.5" x2="446.55" y2="370.5" stroke="#1763b8" stroke-width="1" />
<line x1="456.55" y1="370.5" x2="517.55" y2="370.5" stroke="#1763b8" stroke-width="1" />
<line x1="527.55" y1="370.5" x2="538.55" y2="370.5" stroke="#1763b8" stroke-width="1" />
<line x1="548.55" y1="370.5" x2="609.55" y2="370.5" stroke="#1763b8" stroke-width="1" />
<line x1="619.55" y1="370.5" x2="630.55" y2="370.5" stroke="#1763b8" stroke-width="1" />
<line x1="640.55" y1="370.5" x2="701.55" y2="370.5" stroke="#1763b8" stroke-width="1" />
<line x1="711.55" y1="370.5" x2="722.55" y2="370.5" stroke="#1763b8" stroke-width="1" />
<line x1="732.55" y1="370.5" x2="793.55" y2="370.5" stroke="#1763b8" stroke-width="1" />
<line x1="803.55" y1="370.5" x2="814.55" y2="370.5" stroke="#1763b8" stroke-width="1" />
<line x1="824.55" y1="370.5" x2="885.55" y2="370.5" stroke="#1763b8" stroke-width="1" />
<line x1="895.55" y1="370.5" x2="906.55" y2="370.5" stroke="#1763b8" stroke-width="1" />
<line x1="916.55" y1="370.5" x2="982.8" y2="370.5" stroke="#1763b8" stroke-width="1" />
<line x1="83.3" y1="715.5" x2="149.55" y2="715.5" stroke="#1763b8" stroke-width="1" />
<line x1="159.55" y1="715.5" x2="170.55" y2="715.5" stroke="#1763b8" stroke-width="1" />
<line x1="180.55" y1="715.5" x2="241.55" y2="715.5" stroke="#1763b8" stroke-width="1" />
<line x1="251.55" y1="715.5" x2="262.55" y2="715.5" stroke="#1763b8" stroke-width="1" />
<line x1="272.55" y1="715.5" x2="333.55" y2="715.5" stroke="#1763b8" stroke-width="1" />
<line x1="343.55" y1="715.5" x2="354.55" y2="715.5" stroke="#1763b8" stroke-width="1" />
<line x1="364.55" y1="715.5" x2="425.55" y2="715.5" stroke="#1763b8" stroke-width="1" />
<line x1="435.55" y1="715.5" x2="446.55" y2="715.5" stroke="#1763b8" stroke-width="1" />
<line x1="456.55" y1="715.5" x2="517.55" y2="715.5" stroke="#1763b8" stroke-width="1" />
<line x1="527.55" y1="715.5" x2="538.55" y2="715.5" stroke="#1763b8" stroke-width="1" />
<line x1="548.55" y1="715.5" x2="609.55" y2="715.5" stroke="#1763b8" stroke-width="1" />
<line x1="619.55" y1="715.5" x2="630.55" y2="715.5" stroke="#1763b8" stroke-width="1" />
<line x1="640.55" y1="715.5" x2="701.55" y2="715.5" stroke="#1763b8" stroke-width="1" />
<line x1="711.55" y1="715.5" x2="722.55" y2="715.5" stroke="#1763b8" stroke-width="1" />
<line x1="732.55" y1="715.5" x2="793.55" y2="715.5" stroke="#1763b8" stroke-width="1" />
<line x1="803.55" y1="715.5" x2="814.55" y2="715.5" stroke="#1763b8" stroke-width="1" />
<line x1="824.55" y1="715.5" x2="885.55" y2="715.5" stroke="#1763b8" stroke-width="1" />
<line x1="895.55" y1="715.5" x2="906.55" y2="715.5" stroke="#1763b8" stroke-width="1" />
<line x1="916.55" y1="715.5" x2="982.8" y2="715.5" stroke="#1763b8" stroke-width="1" />
<line x1="83.3" y1="821.5" x2="149.55" y2="821.5" stroke="#1763b8" stroke-width="1" />
<line x1="159.55" y1="821.5" x2="170.55" y2="821.5" stroke="#1763b8" stroke-width="1" />
<line x1="180.55" y1="821.5" x2="241.55" y2="821.5" stroke="#1763b8" stroke-width="1" />
<line x1="251.55" y1="821.5" x2="262.55" y2="821.5" stroke="#1763b8" stroke-width="1" />
<line x1="272.55" y1="821.5" x2="333.55" y2="821.5" stroke="#1763b8" stroke-width="1" />
<line x1="343.55" y1="821.5" x2="354.55" y2="821.5" stroke="#1763b8" stroke-width="1" />
<line x1="364.55" y1="821.5" x2="425.55" y2="821.5" stroke="#1763b8" stroke-width="1" />
<line x1="435.55" y1="821.5" x2="446.55" y2="821.5" stroke="#1763b8" stroke-width="1" />
<line x1="456.55" y1="821.5" x2="517.55" y2="821.5" stroke="#1763b8" stroke-width="1" />
<line x1="527.55" y1="821.5" x2="538.55" y2="821.5" stroke="#1763b8" stroke-width="1" />
<line x1="548.55" y1="821.5" x2="609.55" y2="821.5" stroke="#1763b8" stroke-width="1" />
<line x1="619.55" y1="821.5" x2="630.55" y2="821.5" stroke="#1763b8" stroke-width="1" />
<line x1="640.55" y1="821.5" x2="701.55" y2="821.5" stroke="#1763b8" stroke-width="1" />
<line x1="711.55" y1="821.5" x2="722.55" y2="821.5" stroke="#1763b8" stroke-width="1" />
<line x1="732.55" y1="821.5" x2="793.55" y2="821.5" stroke="#1763b8" stroke-width="1" />
<line x1="803.55" y1="821.5" x2="814.55" y2="821.5" stroke="#1763b8" stroke-width="1" />
<line x1="824.55" y1="821.5" x2="885.55" y2="821.5" stroke="#1763b8" stroke-width="1" />
<line x1="895.55" y1="821.5" x2="906.55" y2="821.5" stroke="#1763b8" stroke-width="1" />
<line x1="916.55" y1="821.5" x2="982.8" y2="821.5" stroke="#1763b8" stroke-width="1" />
<line x1="544.3" y1="849.5" x2="610.05" y2="849.5" stroke="#1763b8" stroke-width="1" />
<line x1="620.05" y1="849.5" x2="631.05" y2="849.5" stroke="#1763b8" stroke-width="1" />
<line x1="641.05" y1="849.5" x2="702.05" y2="849.5" stroke="#1763b8" stroke-width="1" />
<line x1="712.05" y1="849.5" x2="723.05" y2="849.5" stroke="#1763b8" stroke-width="1" />
<line x1="733.05" y1="849.5" x2="794.05" y2="849.5" stroke="#1763b8" stroke-width="1" />
<line x1="804.05" y1="849.5" x2="815.05" y2="849.5" stroke="#1763b8" stroke-width="1" />
<line x1="825.05" y1="849.5" x2="886.05" y2="849.5" stroke="#1763b8" stroke-width="1" />
<line x1="896.05" y1="849.5" x2="907.05" y2="849.5" stroke="#1763b8" stroke-width="1" />
<line x1="917.05" y1="849.5" x2="982.8" y2="849.5" stroke="#1763b8" stroke-width="1" />
<line x1="543.7" y1="1245.5" x2="610" y2="1245.5" stroke="#1763b8" stroke-width="1" />
<line x1="620" y1="1245.5" x2="631" y2="1245.5" stroke="#1763b8" stroke-width="1" />
<line x1="641" y1="1245.5" x2="702" y2="1245.5" stroke="#1763b8" stroke-width="1" />
<line x1="712" y1="1245.5" x2="723" y2="1245.5" stroke="#1763b8" stroke-width="1" />
<line x1="733" y1="1245.5" x2="794" y2="1245.5" stroke="#1763b8" stroke-width="1" />
<line x1="804" y1="1245.5" x2="815" y2="1245.5" stroke="#1763b8" stroke-width="1" />
<line x1="825" y1="1245.5" x2="886" y2="1245.5" stroke="#1763b8" stroke-width="1" />
<line x1="896" y1="1245.5" x2="907" y2="1245.5" stroke="#1763b8" stroke-width="1" />
<line x1="917" y1="1245.5" x2="983.3" y2="1245.5" stroke="#1763b8" stroke-width="1" />
<line x1="186.5" y1="40.5" x2="186.5" y2="80.5" stroke="#1763b8" stroke-width="1" />
<line x1="186.5" y1="90.5" x2="186.5" y2="101.5" stroke="#1763b8" stroke-width="1" />
<line x1="186.5" y1="111.5" x2="186.5" y2="172.5" stroke="#1763b8" stroke-width="1" />
<line x1="186.5" y1="182.5" x2="186.5" y2="193.5" stroke="#1763b8" stroke-width="1" />
<line x1="186.5" y1="203.5" x2="186.5" y2="264.5" stroke="#1763b8" stroke-width="1" />
<line x1="186.5" y1="274.5" x2="186.5" y2="285.5" stroke="#1763b8" stroke-width="1" />
<line x1="186.5" y1="295.5" x2="186.5" y2="356.5" stroke="#1763b8" stroke-width="1" />
<line x1="186.5" y1="366.5" x2="186.5" y2="377.5" stroke="#1763b8" stroke-width="1" />
<line x1="186.5" y1="387.5" x2="186.5" y2="448.5" stroke="#1763b8" stroke-width="1" />
<line x1="186.5" y1="458.5" x2="186.5" y2="469.5" stroke="#1763b8" stroke-width="1" />
<line x1="186.5" y1="479.5" x2="186.5" y2="540.5" stroke="#1763b8" stroke-width="1" />
<line x1="186.5" y1="550.5" x2="186.5" y2="561.5" stroke="#1763b8" stroke-width="1" />
<line x1="186.5" y1="571.5" x2="186.5" y2="632.5" stroke="#1763b8" stroke-width="1" />
<line x1="186.5" y1="642.5" x2="186.5" y2="653.5" stroke="#1763b8" stroke-width="1" />
<line x1="186.5" y1="663.5" x2="186.5" y2="724.5" stroke="#1763b8" stroke-width="1" />
<line x1="186.5" y1="734.5" x2="186.5" y2="745.5" stroke="#1763b8" stroke-width="1" />
<line x1="186.5" y1="755.5" x2="186.5" y2="816.5" stroke="#1763b8" stroke-width="1" />
<line x1="186.5" y1="826.5" x2="186.5" y2="837.5" stroke="#1763b8" stroke-width="1" />
<line x1="186.5" y1="847.5" x2="186.5" y2="908.5" stroke="#1763b8" stroke-width="1" />
<line x1="186.5" y1="918.5" x2="186.5" y2="929.5" stroke="#1763b8" stroke-width="1" />
<line x1="186.5" y1="939.5" x2="186.5" y2="979.5" stroke="#1763b8" stroke-width="1" />
<line x1="466.5" y1="40.5" x2="466.5" y2="80.5" stroke="#1763b8" stroke-width="1" />
<line x1="466.5" y1="90.5" x2="466.5" y2="101.5" stroke="#1763b8" stroke-width="1" />
<line x1="466.5" y1="111.5" x2="466.5" y2="172.5" stroke="#1763b8" stroke-width="1" />
<line x1="466.5" y1="182.5" x2="466.5" y2="193.5" stroke="#1763b8" stroke-width="1" />
<line x1="466.5" y1="203.5" x2="466.5" y2="264.5" stroke="#1763b8" stroke-width="1" />
<line x1="466.5" y1="274.5" x2="466.5" y2="285.5" stroke="#1763b8" stroke-width="1" />
<line x1="466.5" y1="295.5" x2="466.5" y2="356.5" stroke="#1763b8" stroke-width="1" />
<line x1="466.5" y1="366.5" x2="466.5" y2="377.5" stroke="#1763b8" stroke-width="1" />
<line x1="466.5" y1="387.5" x2="466.5" y2="448.5" stroke="#1763b8" stroke-width="1" />
<line x1="466.5" y1="458.5" x2="466.5" y2="469.5" stroke="#1763b8" stroke-width="1" />
<line x1="466.5" y1="479.5" x2="466.5" y2="540.5" stroke="#1763b8" stroke-width="1" />
<line x1="466.5" y1="550.5" x2="466.5" y2="561.5" stroke="#1763b8" stroke-width="1" />
<line x1="466.5" y1="571.5" x2="466.5" y2="632.5" stroke="#1763b8" stroke-width="1" />
<line x1="466.5" y1="642.5" x2="466.5" y2="653.5" stroke="#1763b8" stroke-width="1" />
<line x1="466.5" y1="663.5" x2="466.5" y2="724.5" stroke="#1763b8" stroke-width="1" />
<line x1="466.5" y1="734.5" x2="466.5" y2="745.5" stroke="#1763b8" stroke-width="1" />
<line x1="466.5" y1="755.5" x2="466.5" y2="816.5" stroke="#1763b8" stroke-width="1" />
<line x1="466.5" y1="826.5" x2="466.5" y2="837.5" stroke="#1763b8" stroke-width="1" />
<line x1="466.5" y1="847.5" x2="466.5" y2="908.5" stroke="#1763b8" stroke-width="1" />
<line x1="466.5" y1="918.5" x2="466.5" y2="929.5" stroke="#1763b8" stroke-width="1" />
<line x1="466.5" y1="939.5" x2="466.5" y2="979.5" stroke="#1763b8" stroke-width="1" />
<line x1="627.5" y1="40.5" x2="627.5" y2="110.4" stroke="#1763b8" stroke-width="1" />
<line x1="627.5" y1="120.4" x2="627.5" y2="131.4" stroke="#1763b8" stroke-width="1" />
<line x1="627.5" y1="141.4" x2="627.5" y2="202.4" stroke="#1763b8" stroke-width="1" />
<line x1="627.5" y1="212.4" x2="627.5" y2="223.4" stroke="#1763b8" stroke-width="1" />
<line x1="627.5" y1="233.4" x2="627.5" y2="294.4" stroke="#1763b8" stroke-width="1" />
<line x1="627.5" y1="304.4" x2="627.5" y2="315.4" stroke="#1763b8" stroke-width="1" />
<line x1="627.5" y1="325.4" x2="627.5" y2="386.4" stroke="#1763b8" stroke-width="1" />
<line x1="627.5" y1="396.4" x2="627.5" y2="407.4" stroke="#1763b8" stroke-width="1" />
<line x1="627.5" y1="417.4" x2="627.5" y2="478.4" stroke="#1763b8" stroke-width="1" />
<line x1="627.5" y1="488.4" x2="627.5" y2="499.4" stroke="#1763b8" stroke-width="1" />
<line x1="627.5" y1="509.4" x2="627.5" y2="570.4" stroke="#1763b8" stroke-width="1" />
<line x1="627.5" y1="580.4" x2="627.5" y2="591.4" stroke="#1763b8" stroke-width="1" />
<line x1="627.5" y1="601.4" x2="627.5" y2="662.4" stroke="#1763b8" stroke-width="1" />
<line x1="627.5" y1="672.4" x2="627.5" y2="683.4" stroke="#1763b8" stroke-width="1" />
<line x1="627.5" y1="693.4" x2="627.5" y2="754.4" stroke="#1763b8" stroke-width="1" />
<line x1="627.5" y1="764.4" x2="627.5" y2="775.4" stroke="#1763b8" stroke-width="1" />
<line x1="627.5" y1="785.4" x2="627.5" y2="846.4" stroke="#1763b8" stroke-width="1" />
<line x1="627.5" y1="856.4" x2="627.5" y2="867.4" stroke="#1763b8" stroke-width="1" />
<line x1="627.5" y1="877.4" x2="627.5" y2="938.4" stroke="#1763b8" stroke-width="1" />
<line x1="627.5" y1="948.4" x2="627.5" y2="959.4" stroke="#1763b8" stroke-width="1" />
<line x1="627.5" y1="969.4" x2="627.5" y2="1030.4" stroke="#1763b8" stroke-width="1" />
<line x1="627.5" y1="1040.4" x2="627.5" y2="1051.4" stroke="#1763b8" stroke-width="1" />
<line x1="627.5" y1="1061.4" x2="627.5" y2="1122.4" stroke="#1763b8" stroke-width="1" />
<line x1="627.5" y1="1132.4" x2="627.5" y2="1143.4" stroke="#1763b8" stroke-width="1" />
<line x1="627.5" y1="1153.4" x2="627.5" y2="1214.4" stroke="#1763b8" stroke-width="1" />
<line x1="627.5" y1="1224.4" x2="627.5" y2="1235.4" stroke="#1763b8" stroke-width="1" />
<line x1="627.5" y1="1245.4" x2="627.5" y2="1315.3" stroke="#1763b8" stroke-width="1" />
<line x1="847.5" y1="40.5" x2="847.5" y2="110.4" stroke="#1763b8" stroke-width="1" />
<line x1="847.5" y1="120.4" x2="847.5" y2="131.4" stroke="#1763b8" stroke-width="1" />
<line x1="847.5" y1="141.4" x2="847.5" y2="202.4" stroke="#1763b8" stroke-width="1" />
<line x1="847.5" y1="212.4" x2="847.5" y2="223.4" stroke="#1763b8" stroke-width="1" />
<line x1="847.5" y1="233.4" x2="847.5" y2="294.4" stroke="#1763b8" stroke-width="1" />
<line x1="847.5" y1="304.4" x2="847.5" y2="315.4" stroke="#1763b8" stroke-width="1" />
<line x1="847.5" y1="325.4" x2="847.5" y2="386.4" stroke="#1763b8" stroke-width="1" />
<line x1="847.5" y1="396.4" x2="847.5" y2="407.4" stroke="#1763b8" stroke-width="1" />
<line x1="847.5" y1="417.4" x2="847.5" y2="478.4" stroke="#1763b8" stroke-width="1" />
<line x1="847.5" y1="488.4" x2="847.5" y2="499.4" stroke="#1763b8" stroke-width="1" />
<line x1="847.5" y1="509.4" x2="847.5" y2="570.4" stroke="#1763b8" stroke-width="1" />
<line x1="847.5" y1="580.4" x2="847.5" y2="591.4" stroke="#1763b8" stroke-width="1" />
<line x1="847.5" y1="601.4" x2="847.5" y2="662.4" stroke="#1763b8" stroke-width="1" />
<line x1="847.5" y1="672.4" x2="847.5" y2="683.4" stroke="#1763b8" stroke-width="1" />
<line x1="847.5" y1="693.4" x2="847.5" y2="754.4" stroke="#1763b8" stroke-width="1" />
<line x1="847.5" y1="764.4" x2="847.5" y2="775.4" stroke="#1763b8" stroke-width="1" />
<line x1="847.5" y1="785.4" x2="847.5" y2="846.4" stroke="#1763b8" stroke-width="1" />
<line x1="847.5" y1="856.4" x2="847.5" y2="867.4" stroke="#1763b8" stroke-width="1" />
<line x1="847.5" y1="877.4" x2="847.5" y2="938.4" stroke="#1763b8" stroke-width="1" />
<line x1="847.5" y1="948.4" x2="847.5" y2="959.4" stroke="#1763b8" stroke-width="1" />
<line x1="847.5" y1="969.4" x2="847.5" y2="1030.4" stroke="#1763b8" stroke-width="1" />
<line x1="847.5" y1="1040.4" x2="847.5" y2="1051.4" stroke="#1763b8" stroke-width="1" />
<line x1="847.5" y1="1061.4" x2="847.5" y2="1122.4" stroke="#1763b8" stroke-width="1" />
<line x1="847.5" y1="1132.4" x2="847.5" y2="1143.4" stroke="#1763b8" stroke-width="1" />
<line x1="847.5" y1="1153.4" x2="847.5" y2="1214.4" stroke="#1763b8" stroke-width="1" />
<line x1="847.5" y1="1224.4" x2="847.5" y2="1235.4" stroke="#1763b8" stroke-width="1" />
<line x1="847.5" y1="1245.4" x2="847.5" y2="1315.3" stroke="#1763b8" stroke-width="1" />
</g>
<rect x="196.6" y="154.2" width="19.1" height="10.3" stroke="#ff0000" fill="none" stroke-width="1.3" />
<line x1="212.4" y1="151.2" x2="212.4" y2="164.5" stroke="#777" stroke-width="1" />
<rect x="824" y="238.3" width="13.5" height="13.1" stroke="#ff0000" fill="none" stroke-width="1.2" />
<path d="M444.2 705.5 L444.2 692.2 L457.5 692.2 L457.5 705.5" stroke="#ff0000" stroke-width="1.2" fill="none" />
<line x1="824.6" y1="474.4" x2="837.5" y2="474.4" stroke="#ff0000" stroke-width="1.2" />
<line x1="824.6" y1="513.2" x2="837.5" y2="513.2" stroke="#ff0000" stroke-width="1.2" />
<path d="M457.5 705.5 L441.5 705.5 L441.5 847.3 L872.8 847.3 L872.8 705.5 L856.2 705.5" stroke="#ff0000" stroke-width="1.2" fill="none" />
<line x1="476.8" y1="705.5" x2="618.1" y2="705.5" stroke="#ff0000" stroke-width="1.2" />
<line x1="637.6" y1="705.5" x2="837.5" y2="705.5" stroke="#ff0000" stroke-width="1.2" />
<line x1="637.6" y1="725.5" x2="837.5" y2="725.5" stroke="#ff0000" stroke-width="1.2" />
<rect x="486.2" y="705.5" width="3.1" height="26.8" stroke="#ff0000" fill="none" stroke-width="1.1" />
<rect x="599.4" y="705.5" width="3.2" height="26.8" stroke="#ff0000" fill="none" stroke-width="1.1" />
<line x1="476.5" y1="152.6" x2="476.5" y2="290.4" stroke="#ff0000" stroke-width="1.2" />
<line x1="457.4" y1="151.5" x2="457.4" y2="705.5" stroke="#ff0000" stroke-width="1.2" stroke-dasharray="20.3 10.46" stroke-dashoffset="10.06"/>
<line x1="476" y1="154.6" x2="577" y2="154.6" stroke="#ff0000" stroke-width="1.1" stroke-dasharray="22 7"/>
<line x1="476.2" y1="225.2" x2="618" y2="225.2" stroke="#ff0000" stroke-width="1.1" stroke-dasharray="22 7"/>
<line x1="476.2" y1="225.2" x2="490.5" y2="225.2" stroke="#ff0000" stroke-width="1.1" />
<line x1="476.2" y1="244.4" x2="618" y2="244.4" stroke="#ff0000" stroke-width="1.1" stroke-dasharray="22 7"/>
<line x1="476.2" y1="244.4" x2="490.5" y2="244.4" stroke="#ff0000" stroke-width="1.1" />
<line x1="476.2" y1="263.6" x2="618" y2="263.6" stroke="#ff0000" stroke-width="1.1" stroke-dasharray="22 7"/>
<line x1="476.2" y1="263.6" x2="490.5" y2="263.6" stroke="#ff0000" stroke-width="1.1" />
<line x1="476.2" y1="282.8" x2="618" y2="282.8" stroke="#ff0000" stroke-width="1.1" stroke-dasharray="22 7"/>
<line x1="476.2" y1="282.8" x2="490.5" y2="282.8" stroke="#ff0000" stroke-width="1.1" />
<line x1="476.2" y1="302" x2="618" y2="302" stroke="#ff0000" stroke-width="1.1" stroke-dasharray="22 7"/>
<line x1="476.2" y1="302" x2="490.5" y2="302" stroke="#ff0000" stroke-width="1.1" />
<line x1="476.2" y1="321.2" x2="618" y2="321.2" stroke="#ff0000" stroke-width="1.1" stroke-dasharray="22 7"/>
<line x1="476.2" y1="321.2" x2="490.5" y2="321.2" stroke="#ff0000" stroke-width="1.1" />
<line x1="476.2" y1="340.4" x2="618" y2="340.4" stroke="#ff0000" stroke-width="1.1" stroke-dasharray="22 7"/>
<line x1="476.2" y1="340.4" x2="490.5" y2="340.4" stroke="#ff0000" stroke-width="1.1" />
<line x1="476.2" y1="360.3" x2="547.7" y2="360.3" stroke="#ff0000" stroke-width="1.2" />
<path d="M392 151.2 L392 203.7" stroke="#00e000" stroke-width="1.2" fill="none" />
<path d="M392 248.3 L392 294.3 L547.8 294.3" stroke="#00e000" stroke-width="1.2" fill="none" />
<path d="M399.4 151.2 L399.4 203.7" stroke="#00e000" stroke-width="1.2" fill="none" />
<path d="M399.4 248.3 L399.4 286.4 L547.8 286.4" stroke="#00e000" stroke-width="1.2" fill="none" />
<path d="M547.8 352.3 L547.8 227 L618 227" stroke="#00e000" stroke-width="1.2" fill="none" />
<path d="M555.3 352.3 L555.3 235.1 L618.4 235.1" stroke="#00e000" stroke-width="1.2" fill="none" />
<path d="M618.6 235.4 L618.6 279" stroke="#00e000" stroke-width="1.2" fill="none" />
<path d="M627.4 235.4 L627.4 279" stroke="#00e000" stroke-width="1.2" fill="none" />
<path d="M618.6 324.5 L618.6 352.3" stroke="#00e000" stroke-width="1.2" fill="none" />
<path d="M627.4 324.5 L627.4 352.3" stroke="#00e000" stroke-width="1.2" fill="none" />
<path d="M468.8 705.5 L468.8 647.2 L451.4 647.2 L451.4 640.6 L468.8 640.6 L468.8 522.8 L476.8 522.8 L476.8 705.5" stroke="#00e000" stroke-width="1.2" fill="none" />
<path d="M695.1 360.7 L837.5 360.7" stroke="#00e000" stroke-width="1.2" fill="none" />
<path d="M713 368.7 L837.5 368.7" stroke="#00e000" stroke-width="1.2" fill="none" />
<path d="M695.1 360.7 L695.1 368.7 L705.5 368.7 L705.5 407" stroke="#00e000" stroke-width="1.2" fill="none" />
<path d="M713 368.7 L713 407" stroke="#00e000" stroke-width="1.2" fill="none" />
<path d="M705.5 457.8 L705.5 523.4" stroke="#00e000" stroke-width="1.2" fill="none" />
<path d="M713 457.8 L713 523.4" stroke="#00e000" stroke-width="1.2" fill="none" />
<path d="M713 465.6 L837.5 465.6" stroke="#00e000" stroke-width="1.2" fill="none" />
<path d="M816.6 465.6 L816.6 523.4" stroke="#00e000" stroke-width="1.2" fill="none" />
<rect x="824.6" y="473.6" width="12.9" height="49.8" stroke="#00e000" fill="none" stroke-width="1.2" />
<path d="M645.6 523.4 L629.3 523.4 L629.3 705.3" stroke="#00e000" stroke-width="1.2" fill="none" />
<path d="M645.6 531.4 L637.6 531.4 L637.6 705.3" stroke="#00e000" stroke-width="1.2" fill="none" />
<path d="M697.8 523.4 L837.5 523.4" stroke="#00e000" stroke-width="1.2" fill="none" />
<path d="M697.8 531.4 L837.5 531.4" stroke="#00e000" stroke-width="1.2" fill="none" />
<path d="M637.6 725.5 L637.6 812.4" stroke="#00e000" stroke-width="1.2" fill="none" />
<path d="M837.5 238.3 L837.5 288.6" stroke="#00e000" stroke-width="1.2" fill="none" />
<path d="M861.5 238.3 L861.5 288.6" stroke="#00e000" stroke-width="1.2" fill="none" />
<path d="M837.5 343.5 L837.5 360.6" stroke="#00e000" stroke-width="1.2" fill="none" />
<path d="M861.5 343.5 L861.5 360.6" stroke="#00e000" stroke-width="1.2" fill="none" />
<path d="M837.5 380.2 L837.5 705.3" stroke="#00e000" stroke-width="1.2" fill="none" />
<path d="M861.5 380.2 L861.5 705.3" stroke="#00e000" stroke-width="1.2" fill="none" />
<path d="M837.5 725.4 L837.5 812.4" stroke="#00e000" stroke-width="1.2" fill="none" />
<path d="M861.5 725.4 L861.5 812.4" stroke="#00e000" stroke-width="1.2" fill="none" />
<path d="M837.5 288.6 L861.5 288.6" stroke="#00e000" stroke-width="1.2" fill="none" />
<path d="M837.5 343.5 L861.5 343.5" stroke="#00e000" stroke-width="1.2" fill="none" />
<path d="M637.5 812.4 L684 812.4 L684 836.5 L637.5 836.5" stroke="#00e000" stroke-width="1.2" fill="none" />
<path d="M837.2 812.4 L790.6 812.4 L790.6 836.5 L837.2 836.5" stroke="#00e000" stroke-width="1.2" fill="none" />
<path d="M196.8 705.5 L212.3 705.5 L212.3 730.9 L196.8 730.9" stroke="#00e000" stroke-width="1.2" fill="none" />
<path d="M457.5 705.5 L395.7 705.5 L395.7 730.9 L486.2 730.9" stroke="#00e000" stroke-width="1.2" fill="none" />
<path d="M476.8 705.5 L486.2 705.5" stroke="#00e000" stroke-width="1.2" fill="none" />
<rect x="416.6" y="690.2" width="8" height="15.3" stroke="#00e000" fill="none" stroke-width="1.2" />
<rect x="170.9" y="486.7" width="25.9" height="31.6" stroke="#00e000" fill="none" stroke-width="1.2" />
<rect x="170.9" y="676.6" width="25.9" height="28.9" stroke="#00e000" fill="none" stroke-width="1.2" />
<path d="M603.4 705.5 L603.4 731 L613.5 731 L613.5 812.5" stroke="#00e000" stroke-width="1.2" fill="none" />
<path d="M603.4 705.5 L618.1 705.5" stroke="#00e000" stroke-width="1.2" fill="none" />
<rect x="178.9" y="815.2" width="17.9" height="16.1" stroke="#00e000" fill="none" stroke-width="1.2" />
<rect x="457.5" y="815.2" width="16.1" height="16.1" stroke="#00e000" fill="none" stroke-width="1.2" />
<line x1="391.5" y1="151.5" x2="412" y2="151.5" stroke="#000" stroke-width="1.2" />
<line x1="176.5" y1="380.3" x2="176.5" y2="705.5" stroke="#000" stroke-width="1.1" />
<line x1="196.5" y1="380.3" x2="196.5" y2="705.5" stroke="#000" stroke-width="1.1" />
<line x1="169.5" y1="380.3" x2="169.5" y2="486.3" stroke="#000" stroke-width="1.1" />
<line x1="169.5" y1="518.5" x2="169.5" y2="676.2" stroke="#000" stroke-width="1.1" />
<line x1="171.7" y1="518.5" x2="171.7" y2="676.2" stroke="#38388c" stroke-width="1" />
<line x1="856.2" y1="238.3" x2="856.2" y2="812.4" stroke="#000" stroke-width="1.1" />
<line x1="837.5" y1="288.6" x2="837.5" y2="343.5" stroke="#000" stroke-width="1.1" />
<line x1="863.5" y1="288.6" x2="863.5" y2="343.5" stroke="#000" stroke-width="1.1" />
<line x1="861.4" y1="288.6" x2="861.4" y2="343.5" stroke="#38388c" stroke-width="1" />
<line x1="212.3" y1="705.5" x2="395.7" y2="705.5" stroke="#000" stroke-width="1.1" />
<line x1="212.3" y1="725.6" x2="395.7" y2="725.6" stroke="#000" stroke-width="1.1" />
<line x1="212.3" y1="730.9" x2="395.7" y2="730.9" stroke="#000" stroke-width="1.1" />
<line x1="395.7" y1="725.6" x2="486" y2="725.6" stroke="#000" stroke-width="1.1" />
<line x1="489.5" y1="725.6" x2="599" y2="725.6" stroke="#000" stroke-width="1.1" />
<line x1="603.4" y1="725.6" x2="618.1" y2="725.6" stroke="#000" stroke-width="1.1" />
<line x1="618.5" y1="725.6" x2="618.5" y2="812.5" stroke="#000" stroke-width="1.1" />
<line x1="684" y1="812.4" x2="790.6" y2="812.4" stroke="#000" stroke-width="1.1" />
<line x1="684" y1="831" x2="790.6" y2="831" stroke="#000" stroke-width="1.1" />
<line x1="684" y1="838" x2="790.6" y2="838" stroke="#000" stroke-width="1.1" />
<line x1="637.5" y1="831" x2="684" y2="831" stroke="#000" stroke-width="1.1" />
<line x1="790.6" y1="831" x2="837.2" y2="831" stroke="#000" stroke-width="1.1" />
<path d="M451.4 643.5 L446.9 643.5 L420.1 684.5 L420.1 690.6" stroke="#000" stroke-width="1.1" fill="none" />
<path d="M451.9 647.9 L424.4 690" stroke="#000" stroke-width="1.1" fill="none" />
<line x1="171.4" y1="857.5" x2="610" y2="857.5" stroke="#38388c" stroke-width="1.1" />
<line x1="171.4" y1="863.4" x2="465.4" y2="863.4" stroke="#000" stroke-width="1.1" />
<line x1="171.4" y1="857.5" x2="171.4" y2="863.4" stroke="#000" stroke-width="1.1" />
<line x1="863.5" y1="238.3" x2="863.5" y2="288.6" stroke="#8080ff" stroke-width="1.6" />
<line x1="863.5" y1="343.5" x2="863.5" y2="812.4" stroke="#8080ff" stroke-width="1.6" />
<line x1="169.8" y1="486.3" x2="169.8" y2="518.5" stroke="#8080ff" stroke-width="1.4" />
<line x1="169.8" y1="676.2" x2="169.8" y2="705.5" stroke="#8080ff" stroke-width="1.4" />
<line x1="171.4" y1="732.3" x2="171.4" y2="857.5" stroke="#38388c" stroke-width="1.2" />
<line x1="178.6" y1="732.3" x2="178.6" y2="857.5" stroke="#888" stroke-width="1.1" />
<line x1="196.8" y1="731.5" x2="457.5" y2="731.5" stroke="#38388c" stroke-width="1.1" />
<line x1="476.8" y1="731.2" x2="610" y2="731.2" stroke="#38388c" stroke-width="1.1" />
<line x1="611.4" y1="731.2" x2="611.4" y2="812.5" stroke="#8080ff" stroke-width="1.8" />
<line x1="609.6" y1="731.2" x2="609.6" y2="847.3" stroke="#38388c" stroke-width="1" />
<line x1="387" y1="858.3" x2="610" y2="858.3" stroke="#38388c" stroke-width="1.1" />
<line x1="196.8" y1="294.1" x2="391.6" y2="294.1" stroke="#38388c" stroke-width="1.1" />
<line x1="476.5" y1="290.4" x2="476.5" y2="522.8" stroke="#38388c" stroke-width="1.1" />
<line x1="547.7" y1="380.3" x2="547.7" y2="438.4" stroke="#38388c" stroke-width="1.1" />
<line x1="476.8" y1="438.4" x2="547.7" y2="438.4" stroke="#38388c" stroke-width="1.1" />
<rect x="392" y="203.7" width="7.4" height="2.5" stroke="#ff0000" fill="none" stroke-width="1.1" />
<rect x="392" y="245.8" width="7.4" height="2.5" stroke="#ff0000" fill="none" stroke-width="1.1" />
<line x1="392" y1="206.2" x2="392" y2="245.8" stroke="#888" stroke-width="1" />
<line x1="399.4" y1="206.2" x2="399.4" y2="245.8" stroke="#888" stroke-width="1" />
<rect x="399.4" y="243.3" width="41.4" height="3" stroke="#ff0000" fill="none" stroke-width="1.1" />
<path d="M440.8 246 A41.4 41.4 0 0 0 399.4 204.6" stroke="#7d6208" stroke-width="1.1" fill="none" />
<rect x="618.6" y="279" width="8.8" height="45.5" stroke="#ff0000" fill="none" stroke-width="1.2" />
<line x1="627.4" y1="282" x2="627.4" y2="322" stroke="#888" stroke-width="1" />
<rect x="627.4" y="281.2" width="40.1" height="3.2" stroke="#ff0000" fill="none" stroke-width="1.1" />
<path d="M667.7 284 A40.3 40.3 0 0 1 627.4 324.3" stroke="#7d6208" stroke-width="1.1" fill="none" />
<rect x="642.1" y="360.7" width="2.9" height="8" stroke="#ff0000" fill="none" stroke-width="1.1" />
<rect x="691.8" y="360.7" width="3.2" height="8" stroke="#ff0000" fill="none" stroke-width="1.1" />
<line x1="645" y1="360.7" x2="691.8" y2="360.7" stroke="#888" stroke-width="1" />
<line x1="645" y1="368.7" x2="691.8" y2="368.7" stroke="#888" stroke-width="1" />
<rect x="689.5" y="368.7" width="3.1" height="47.7" stroke="#ff0000" fill="none" stroke-width="1.1" />
<path d="M644.5 368.7 A47.5 47.5 0 0 0 692 416.2" stroke="#7d6208" stroke-width="1.1" fill="none" />
<rect x="705.5" y="407" width="7.5" height="2.2" stroke="#ff0000" fill="none" stroke-width="1.1" />
<rect x="705.5" y="455.6" width="7.5" height="2.2" stroke="#ff0000" fill="none" stroke-width="1.1" />
<line x1="705.5" y1="409.2" x2="705.5" y2="455.6" stroke="#888" stroke-width="1" />
<line x1="713" y1="409.2" x2="713" y2="455.6" stroke="#888" stroke-width="1" />
<rect x="713" y="453" width="48.7" height="3.2" stroke="#ff0000" fill="none" stroke-width="1.1" />
<path d="M713 406.5 A48.5 48.5 0 0 1 761.5 455" stroke="#7d6208" stroke-width="1.1" fill="none" />
<rect x="645.6" y="523.4" width="2.4" height="8" stroke="#ff0000" fill="none" stroke-width="1.1" />
<rect x="695.4" y="523.4" width="2.4" height="8" stroke="#ff0000" fill="none" stroke-width="1.1" />
<line x1="648" y1="523.4" x2="695.4" y2="523.4" stroke="#888" stroke-width="1" />
<line x1="648" y1="531.4" x2="695.4" y2="531.4" stroke="#888" stroke-width="1" />
<rect x="646.9" y="531.4" width="4.6" height="46.8" stroke="#ff0000" fill="none" stroke-width="1.1" />
<path d="M697 531.4 A49 49 0 0 1 648 580.4" stroke="#7d6208" stroke-width="1.1" fill="none" />
<rect x="488.3" y="649.1" width="3.5" height="56.4" stroke="#ff0000" fill="none" stroke-width="1.1" />
<rect x="597.2" y="649.1" width="3.5" height="56.4" stroke="#ff0000" fill="none" stroke-width="1.1" />
<path d="M492.5 649.8 A52 55.5 0 0 1 544.5 705" stroke="#7d6208" stroke-width="1.1" fill="none" />
<path d="M596.7 649.8 A52.2 55.5 0 0 0 544.5 705" stroke="#7d6208" stroke-width="1.1" fill="none" />
<line x1="544.5" y1="694" x2="544.5" y2="705" stroke="#7d6208" stroke-width="1.1" />
<rect x="180.8" y="381.7" width="4.8" height="103" stroke="#5f86ee" fill="none" stroke-width="1" />
<line x1="183.2" y1="385.7" x2="183.2" y2="480.7" stroke="#5f86ee" stroke-width="0.5" />
<rect x="181.2" y="381.7" width="4" height="4" stroke="#5f86ee" fill="#fff" stroke-width="0.9" />
<rect x="181.2" y="480.7" width="4" height="4" stroke="#5f86ee" fill="#fff" stroke-width="0.9" />
<rect x="181.2" y="431" width="4" height="4" stroke="#5f86ee" fill="#fff" stroke-width="0.9" />
<rect x="180.8" y="520.1" width="4.8" height="155.2" stroke="#5f86ee" fill="none" stroke-width="1" />
<line x1="183.2" y1="524.1" x2="183.2" y2="671.3" stroke="#5f86ee" stroke-width="0.5" />
<rect x="181.2" y="520.1" width="4" height="4" stroke="#5f86ee" fill="#fff" stroke-width="0.9" />
<rect x="181.2" y="671.3" width="4" height="4" stroke="#5f86ee" fill="#fff" stroke-width="0.9" />
<rect x="181.2" y="569.8" width="4" height="4" stroke="#5f86ee" fill="#fff" stroke-width="0.9" />
<rect x="181.2" y="621.7" width="4" height="4" stroke="#5f86ee" fill="#fff" stroke-width="0.9" />
<rect x="849" y="289.2" width="3.7" height="52.2" stroke="#5f86ee" fill="none" stroke-width="1" />
<line x1="850.8" y1="292" x2="850.8" y2="338" stroke="#5f86ee" stroke-width="0.5" />
<rect x="685.5" y="823.5" width="103.2" height="4.1" stroke="#5f86ee" fill="none" stroke-width="1" />
<line x1="689" y1="825.5" x2="785" y2="825.5" stroke="#5f86ee" stroke-width="0.5" />
<rect x="685.5" y="823.9" width="4" height="3.4" stroke="#5f86ee" fill="#fff" stroke-width="0.9" />
<rect x="734.8" y="823.9" width="4" height="3.4" stroke="#5f86ee" fill="#fff" stroke-width="0.9" />
<rect x="784.7" y="823.9" width="4" height="3.4" stroke="#5f86ee" fill="#fff" stroke-width="0.9" />
<rect x="214.2" y="717" width="89.7" height="4" stroke="#5f86ee" fill="none" stroke-width="1" />
<line x1="217" y1="719" x2="301" y2="719" stroke="#5f86ee" stroke-width="0.5" />
<rect x="306.5" y="675.5" width="3.3" height="41.5" stroke="#5f86ee" fill="none" stroke-width="1" />
<rect x="386.8" y="675.5" width="2.7" height="41.5" stroke="#5f86ee" fill="none" stroke-width="1" />
<rect x="306.5" y="717" width="83" height="4" stroke="#5f86ee" fill="none" stroke-width="1" />
<line x1="306.5" y1="675.5" x2="306.5" y2="721" stroke="#5f86ee" stroke-width="1" />
<line x1="389.5" y1="675.5" x2="389.5" y2="721" stroke="#5f86ee" stroke-width="1" />
<path d="M309.8 675.5 A39.4 39.4 0 0 1 349.18 713.52" stroke="#5f86ee" stroke-width="1" fill="none" />
<path d="M386.8 675.5 A39.4 39.4 0 0 0 347.42 713.52" stroke="#5f86ee" stroke-width="1" fill="none" />
<line x1="348" y1="700" x2="348" y2="717" stroke="#5f86ee" stroke-width="1" />
<line x1="476.8" y1="380.3" x2="547.7" y2="380.3" stroke="#000" stroke-width="1.1" />
<line x1="476.8" y1="399.1" x2="547.7" y2="399.1" stroke="#000" stroke-width="1.1" />
<line x1="476.8" y1="418.6" x2="547.7" y2="418.6" stroke="#000" stroke-width="1.1" />
<line x1="547.7" y1="418.6" x2="566.7" y2="418.6" stroke="#000" stroke-width="1.1" />
<path d="M476.8 399.1 A19.65 19.65 0 0 0 476.8 438.4" stroke="#000" stroke-width="1.1" fill="none" />
<path d="M547.7 438.4 A19.4 19.8 0 0 0 566.7 418.6" stroke="#000" stroke-width="1.1" fill="none" />
<line x1="508" y1="341.5" x2="547.7" y2="341.5" stroke="#000" stroke-width="1.1" />
<line x1="537" y1="322.3" x2="547.7" y2="322.3" stroke="#000" stroke-width="1.1" />
<path d="M465.89 863.6 A180.8 180.8 0 0 0 601.7 934.14" stroke="#000" stroke-width="1.1" fill="none" />
<path d="M436.97 863.6 A204.5 204.5 0 0 0 601.7 957.86" stroke="#000" stroke-width="1.1" fill="none" />
<path d="M410.79 863.6 A227 227 0 0 0 601.7 980.37" stroke="#000" stroke-width="1.1" fill="none" />
<path d="M387.3 863.6 A247.8 247.8 0 0 0 609.3 1001.3" stroke="#38388c" stroke-width="1.1" fill="none" />
<line x1="465.4" y1="863.6" x2="465.4" y2="857.5" stroke="#000" stroke-width="1" />
<rect x="597.9" y="913.5" width="11.4" height="20.2" stroke="#000" fill="none" stroke-width="1.1" />
<line x1="609.3" y1="933.7" x2="609.3" y2="1001.3" stroke="#38388c" stroke-width="1.1" />
<line x1="631.9" y1="857.6" x2="631.9" y2="929.7" stroke="#000" stroke-width="1.1" />
<line x1="650.8" y1="857.6" x2="650.8" y2="929.7" stroke="#000" stroke-width="1.1" />
<line x1="669.4" y1="857.6" x2="669.4" y2="929.7" stroke="#000" stroke-width="1.1" />
<line x1="689.3" y1="850" x2="689.3" y2="939.2" stroke="#000" stroke-width="1.1" />
<line x1="602.5" y1="939.2" x2="689.3" y2="939.2" stroke="#000" stroke-width="1.1" />
<line x1="611.4" y1="929.7" x2="700.6" y2="929.7" stroke="#38388c" stroke-width="1.1" />
<line x1="700.6" y1="857.6" x2="700.6" y2="929.7" stroke="#38388c" stroke-width="1.1" />
<line x1="611.7" y1="857.6" x2="689.3" y2="857.6" stroke="#000" stroke-width="1.1" />
<line x1="689.3" y1="857.6" x2="700.6" y2="857.6" stroke="#38388c" stroke-width="1.1" />
<path d="M390.8 190 L250.3 190 L234.7 205.4 L234.7 360.3 L196.8 360.3" stroke="#ff8f6b" stroke-width="0.95" fill="none" />
<circle cx="230" cy="184.7" r="14.5" fill="none" stroke="#ff8f6b" stroke-width="3" stroke-opacity="0.4"/>
<circle cx="230" cy="184.7" r="16" stroke="#ff8f6b" stroke-width="0.95" fill="none"/>
<circle cx="230" cy="184.7" r="13" stroke="#ff8f6b" stroke-width="0.95" fill="none"/>
<path d="M219.8 175.3 L214.6 170" stroke="#ff8f6b" stroke-width="2" fill="none" />
<path d="M212.6 172.4 L217.2 168" stroke="#ff8f6b" stroke-width="1.2" fill="none" />
<path d="M222.6 180.8 q2 -3.6 4.2 0 q-1.6 2.6 -4.2 0Z" stroke="#ff8f6b" stroke-width="0.95" fill="none" />
<rect x="275.6" y="151.2" width="38.7" height="38.8" stroke="#ff8f6b" fill="none" stroke-width="0.95" />
<rect x="278.3" y="154" width="32.7" height="32.8" stroke="#ff8f6b" fill="none" stroke-width="0.95" />
<circle cx="287" cy="163.3" r="7.4" stroke="#ff8f6b" stroke-width="0.95" fill="none"/>
<circle cx="302.9" cy="163.3" r="5.4" stroke="#ff8f6b" stroke-width="0.95" fill="none"/>
<circle cx="287" cy="178.9" r="4.7" stroke="#ff8f6b" stroke-width="0.95" fill="none"/>
<circle cx="302.9" cy="178.9" r="6.7" stroke="#ff8f6b" stroke-width="0.95" fill="none"/>
<line x1="352.7" y1="151.2" x2="352.7" y2="190" stroke="#ff8f6b" stroke-width="0.95" />
<circle cx="371.3" cy="167.5" r="4.5" stroke="#ff8f6b" stroke-width="0.95" fill="none"/>
<line x1="371.3" y1="158.3" x2="371.3" y2="176.4" stroke="#ff8f6b" stroke-width="0.95" />
<rect x="361" y="190" width="21.4" height="3" stroke="#ff8f6b" fill="none" stroke-width="0.95" />
<line x1="204.5" y1="209" x2="204.5" y2="225.7" stroke="#ff8f6b" stroke-width="0.95" />
<line x1="207.8" y1="209" x2="207.8" y2="225.7" stroke="#ff8f6b" stroke-width="0.95" />
<line x1="211.1" y1="209" x2="211.1" y2="225.7" stroke="#ff8f6b" stroke-width="0.95" />
<line x1="214.4" y1="209" x2="214.4" y2="225.7" stroke="#ff8f6b" stroke-width="0.95" />
<line x1="217.7" y1="209" x2="217.7" y2="225.7" stroke="#ff8f6b" stroke-width="0.95" />
<line x1="221" y1="209" x2="221" y2="225.7" stroke="#ff8f6b" stroke-width="0.95" />
<line x1="224.3" y1="209" x2="224.3" y2="225.7" stroke="#ff8f6b" stroke-width="0.95" />
<line x1="227.6" y1="209" x2="227.6" y2="225.7" stroke="#ff8f6b" stroke-width="0.95" />
<line x1="196.8" y1="244.3" x2="234.7" y2="244.3" stroke="#ff8f6b" stroke-width="0.95" />
<line x1="196.8" y1="283.4" x2="234.7" y2="283.4" stroke="#ff8f6b" stroke-width="0.95" />
<line x1="230.5" y1="246" x2="230.5" y2="283" stroke="#ff8f6b" stroke-width="0.95" stroke-dasharray="5 3"/>
<path d="M226 272.5 q1.5 -2 3 0 l-1.5 5 Z" stroke="#ff8f6b" stroke-width="0.95" fill="none" />
<line x1="196.8" y1="322" x2="234.7" y2="322" stroke="#ff8f6b" stroke-width="0.95" />
<line x1="223.1" y1="314" x2="228.3" y2="314" stroke="#ff8f6b" stroke-width="0.8" />
<line x1="224.4" y1="311.75" x2="227" y2="316.25" stroke="#ff8f6b" stroke-width="0.8" />
<line x1="227" y1="311.75" x2="224.4" y2="316.25" stroke="#ff8f6b" stroke-width="0.8" />
<line x1="223.1" y1="330.3" x2="228.3" y2="330.3" stroke="#ff8f6b" stroke-width="0.8" />
<line x1="224.4" y1="328.05" x2="227" y2="332.55" stroke="#ff8f6b" stroke-width="0.8" />
<line x1="227" y1="328.05" x2="224.4" y2="332.55" stroke="#ff8f6b" stroke-width="0.8" />
<rect x="311.9" y="360.2" width="78" height="52" stroke="#ff8f6b" fill="none" stroke-width="0.95" />
<g transform="translate(331 350.5) rotate(0)" stroke="#ff8f6b" stroke-width="0.95" fill="none">
<ellipse cx="0" cy="-13.4" rx="16.8" ry="3.8"/>
<ellipse cx="0" cy="-12.8" rx="13.2" ry="2.3"/>
<path d="M-15.2 -13.5 C-15.6 -6 -16.6 2 -15.8 10.5 C-15 15 -8 17.3 0 17.3 C8 17.3 15 15 15.8 10.5 C16.6 2 15.6 -6 15.2 -13.5"/>
</g>
<g transform="translate(370.5 350.5) rotate(0)" stroke="#ff8f6b" stroke-width="0.95" fill="none">
<ellipse cx="0" cy="-13.4" rx="16.8" ry="3.8"/>
<ellipse cx="0" cy="-12.8" rx="13.2" ry="2.3"/>
<path d="M-15.2 -13.5 C-15.6 -6 -16.6 2 -15.8 10.5 C-15 15 -8 17.3 0 17.3 C8 17.3 15 15 15.8 10.5 C16.6 2 15.6 -6 15.2 -13.5"/>
</g>
<g transform="translate(331 422.3) rotate(180)" stroke="#ff8f6b" stroke-width="0.95" fill="none">
<ellipse cx="0" cy="-13.4" rx="16.8" ry="3.8"/>
<ellipse cx="0" cy="-12.8" rx="13.2" ry="2.3"/>
<path d="M-15.2 -13.5 C-15.6 -6 -16.6 2 -15.8 10.5 C-15 15 -8 17.3 0 17.3 C8 17.3 15 15 15.8 10.5 C16.6 2 15.6 -6 15.2 -13.5"/>
</g>
<g transform="translate(370.5 422.3) rotate(180)" stroke="#ff8f6b" stroke-width="0.95" fill="none">
<ellipse cx="0" cy="-13.4" rx="16.8" ry="3.8"/>
<ellipse cx="0" cy="-12.8" rx="13.2" ry="2.3"/>
<path d="M-15.2 -13.5 C-15.6 -6 -16.6 2 -15.8 10.5 C-15 15 -8 17.3 0 17.3 C8 17.3 15 15 15.8 10.5 C16.6 2 15.6 -6 15.2 -13.5"/>
</g>
<g transform="translate(302.1 386.8) rotate(-90)" stroke="#ff8f6b" stroke-width="0.95" fill="none">
<ellipse cx="0" cy="-13.4" rx="16.8" ry="3.8"/>
<ellipse cx="0" cy="-12.8" rx="13.2" ry="2.3"/>
<path d="M-15.2 -13.5 C-15.6 -6 -16.6 2 -15.8 10.5 C-15 15 -8 17.3 0 17.3 C8 17.3 15 15 15.8 10.5 C16.6 2 15.6 -6 15.2 -13.5"/>
</g>
<g transform="translate(399.4 386.8) rotate(90)" stroke="#ff8f6b" stroke-width="0.95" fill="none">
<ellipse cx="0" cy="-13.4" rx="16.8" ry="3.8"/>
<ellipse cx="0" cy="-12.8" rx="13.2" ry="2.3"/>
<path d="M-15.2 -13.5 C-15.6 -6 -16.6 2 -15.8 10.5 C-15 15 -8 17.3 0 17.3 C8 17.3 15 15 15.8 10.5 C16.6 2 15.6 -6 15.2 -13.5"/>
</g>
<path d="M301.89 489.97 L304.72 487.14 L304.72 484.32 L276.71 456.31 L273.89 456.31 L241.36 488.84 L241.36 491.67 L269.36 519.67 L272.19 519.67 L274.52 517.34" stroke="#ff8f6b" stroke-width="0.95" fill="none" />
<path d="M277.14 465.22 L303.94 492.02 L303.94 494.85 L279.4 519.39 L276.57 519.39 L249.77 492.59 L249.77 489.76 L274.31 465.22 Z" stroke="#ff8f6b" stroke-width="0.95" fill="none" />
<line x1="284.49" y1="472.58" x2="257.13" y2="499.94" stroke="#ff8f6b" stroke-width="0.95" />
<rect x="204.2" y="523.2" width="51.8" height="38.6" rx="3.2" stroke="#ff8f6b" stroke-width="0.95" fill="none"/>
<line x1="213.1" y1="524.2" x2="213.1" y2="560.8" stroke="#ff8f6b" stroke-width="0.95" />
<line x1="220.3" y1="524.2" x2="220.3" y2="560.8" stroke="#ff8f6b" stroke-width="0.95" />
<rect x="204.2" y="562.2" width="51.8" height="38.8" rx="3.2" stroke="#ff8f6b" stroke-width="0.95" fill="none"/>
<line x1="213.1" y1="563.2" x2="213.1" y2="600" stroke="#ff8f6b" stroke-width="0.95" />
<line x1="220.3" y1="563.2" x2="220.3" y2="600" stroke="#ff8f6b" stroke-width="0.95" />
<rect x="204.2" y="601.6" width="51.8" height="38.2" rx="3.2" stroke="#ff8f6b" stroke-width="0.95" fill="none"/>
<line x1="213.1" y1="602.6" x2="213.1" y2="638.8" stroke="#ff8f6b" stroke-width="0.95" />
<line x1="220.3" y1="602.6" x2="220.3" y2="638.8" stroke="#ff8f6b" stroke-width="0.95" />
<path d="M204.2 641 C205 672 226 694 260.1 696.3" stroke="#ff8f6b" stroke-width="0.95" fill="none" />
<path d="M213.1 640.5 C214 668 232 685 260.1 686.9" stroke="#ff8f6b" stroke-width="0.95" fill="none" />
<path d="M220.3 640.5 C221.5 663 237 678.5 260.1 680.4" stroke="#ff8f6b" stroke-width="0.95" fill="none" />
<path d="M222 639.8 L251.5 639.8 Q260.1 642 260.1 651 L260.1 696.3" stroke="#ff8f6b" stroke-width="0.95" fill="none" />
<rect x="260.4" y="644.3" width="38.2" height="52.3" rx="3.2" stroke="#ff8f6b" stroke-width="0.95" fill="none"/>
<line x1="260.4" y1="680.2" x2="298.6" y2="680.2" stroke="#ff8f6b" stroke-width="0.95" />
<line x1="260.4" y1="686.6" x2="298.6" y2="686.6" stroke="#ff8f6b" stroke-width="0.95" />
<rect x="267.5" y="557.6" width="38.2" height="57.8" stroke="#ff8f6b" fill="none" stroke-width="0.95" />
<rect x="434.3" y="530" width="29.4" height="103.3" stroke="#ff8f6b" fill="none" stroke-width="0.95" />
<path d="M444.3 550.2 L447.6 550.2 L447.6 614.5 L444.3 614.5 Z" stroke="#ff8f6b" stroke-width="0.95" fill="none" />
<path d="M447.6 553.2 L452.9 556 L452.9 608.8 L447.6 611.6" stroke="#ff8f6b" stroke-width="0.95" fill="none" />
<line x1="382" y1="560.3" x2="394" y2="564.7" stroke="#ff8f6b" stroke-width="0.95" />
<line x1="404" y1="568" x2="423.1" y2="574.5" stroke="#ff8f6b" stroke-width="0.95" />
<path d="M433.2 578.5 L444.7 582.4 L434.9 586" stroke="#ff8f6b" stroke-width="0.95" fill="none" />
<line x1="425" y1="588.9" x2="414.2" y2="592.8" stroke="#ff8f6b" stroke-width="0.95" />
<rect x="481.6" y="617.3" width="3.2" height="3.2" stroke="#ff8f6b" fill="none" stroke-width="0.95" />
<line x1="481.6" y1="620.5" x2="481.6" y2="691.4" stroke="#ff8f6b" stroke-width="0.95" />
<line x1="484.8" y1="620.5" x2="484.8" y2="691.4" stroke="#ff8f6b" stroke-width="0.95" />
<line x1="481.6" y1="691.4" x2="484.8" y2="691.4" stroke="#ff8f6b" stroke-width="0.95" />
<rect x="482.4" y="626" width="2.4" height="2.2" stroke="#ff8f6b" fill="none" stroke-width="0.8" />
<rect x="482.4" y="635" width="2.4" height="2.2" stroke="#ff8f6b" fill="none" stroke-width="0.8" />
<rect x="482.4" y="644" width="2.4" height="2.2" stroke="#ff8f6b" fill="none" stroke-width="0.8" />
<rect x="482.4" y="653" width="2.4" height="2.2" stroke="#ff8f6b" fill="none" stroke-width="0.8" />
<rect x="482.4" y="662" width="2.4" height="2.2" stroke="#ff8f6b" fill="none" stroke-width="0.8" />
<rect x="482.4" y="671" width="2.4" height="2.2" stroke="#ff8f6b" fill="none" stroke-width="0.8" />
<rect x="482.4" y="680" width="2.4" height="2.2" stroke="#ff8f6b" fill="none" stroke-width="0.8" />
<rect x="482.4" y="689" width="2.4" height="2.2" stroke="#ff8f6b" fill="none" stroke-width="0.8" />
<rect x="578.3" y="154.6" width="39.2" height="69.9" stroke="#ff8f6b" fill="none" stroke-width="0.95" />
<line x1="578.3" y1="154.6" x2="617.5" y2="224.5" stroke="#ff8f6b" stroke-width="0.95" />
<line x1="578.3" y1="224.5" x2="617.5" y2="154.6" stroke="#ff8f6b" stroke-width="0.95" />
<rect x="444.2" y="297.4" width="29.4" height="60.2" stroke="#ff8f6b" fill="none" stroke-width="0.95" />
<line x1="444.2" y1="297.4" x2="473.6" y2="357.6" stroke="#ff8f6b" stroke-width="0.95" />
<line x1="444.2" y1="357.6" x2="473.6" y2="297.4" stroke="#ff8f6b" stroke-width="0.95" />
<rect x="550.4" y="371.8" width="77.1" height="33.2" stroke="#ff8f6b" fill="none" stroke-width="0.95" />
<line x1="550.4" y1="371.8" x2="627.5" y2="405" stroke="#ff8f6b" stroke-width="0.95" />
<line x1="550.4" y1="405" x2="627.5" y2="371.8" stroke="#ff8f6b" stroke-width="0.95" />
<line x1="511.7" y1="228.4" x2="511.7" y2="438.4" stroke="#ff8f6b" stroke-width="0.95" />
<circle cx="511.7" cy="438.4" r="2.6" stroke="#ff8f6b" stroke-width="0.95" fill="none"/>
<path d="M494 235.2 L511.7 228.4 L529.4 235.2" stroke="#ff8f6b" stroke-width="0.95" fill="none" />
<line x1="583.2" y1="222.7" x2="583.2" y2="359" stroke="#ff8f6b" stroke-width="0.95" />
<circle cx="583.2" cy="224.3" r="1.6" stroke="#ff8f6b" stroke-width="0.95" fill="none"/>
<path d="M571.7 353.8 L583.2 360 L596.7 352.7" stroke="#ff8f6b" stroke-width="0.95" fill="none" stroke-dasharray="4 2.5"/>
<line x1="565.4" y1="351.5" x2="600.8" y2="351.5" stroke="#ff8f6b" stroke-width="0.95" />
<path d="M465.6 346.1 L511 326.6 L513 323.5 L517 322 L559.2 304" stroke="#ff8f6b" stroke-width="0.95" fill="none" />
<path d="M470.5 349.5 L513 331.3 L515 328.2 L519 326.8 L560.3 309" stroke="#ff8f6b" stroke-width="0.95" fill="none" />
<rect x="713.6" y="368.7" width="64.9" height="25.6" stroke="#4a84a8" fill="none" stroke-width="1" />
<ellipse cx="749.1" cy="383.7" rx="19.1" ry="15" stroke="#4a84a8" stroke-width="1" fill="#fff" />
<ellipse cx="749.1" cy="383.7" rx="17.3" ry="13.3" stroke="#4a84a8" stroke-width="1" fill="none" />
<circle cx="749.1" cy="382.1" r="2.3" stroke="#4a84a8" stroke-width="1.3" fill="none"/>
<path d="M739.5 370.2 Q749.1 379 758.7 370.2" stroke="#4a84a8" stroke-width="1" fill="none" />
<circle cx="749.1" cy="373.2" r="0.9" stroke="#4a84a8" stroke-width="0.8" fill="none"/>
<rect x="742.2" y="369" width="3.2" height="1.8" stroke="#4a84a8" fill="none" stroke-width="0.8" />
<rect x="753" y="369" width="3.2" height="1.8" stroke="#4a84a8" fill="none" stroke-width="0.8" />
<rect x="714.9" y="466.6" width="100.6" height="55.8" stroke="#4a84a8" fill="none" stroke-width="1" />
<rect x="717.6" y="469.6" width="95" height="49.8" stroke="#4a84a8" fill="none" stroke-width="1" />
<path d="M793 494.5 L808 494.5 M805.5 489.5 L805.5 499.5 M808 487.5 L808 501.5 M810.5 489.5 L810.5 499.5" stroke="#4a84a8" stroke-width="1" fill="none" />
<circle cx="793.8" cy="494.5" r="0.9" stroke="#4a84a8" stroke-width="0.8" fill="none"/>
<rect x="825" y="408.2" width="12.5" height="37.5" stroke="#4a84a8" fill="none" stroke-width="1" />
<rect x="829.2" y="412" width="6.9" height="29.8" stroke="#4a84a8" fill="none" stroke-width="0.9" />
<line x1="829.2" y1="422" x2="836.1" y2="422" stroke="#4a84a8" stroke-width="0.8" />
<line x1="829.2" y1="432" x2="836.1" y2="432" stroke="#4a84a8" stroke-width="0.8" />
<line x1="832.6" y1="412" x2="832.6" y2="441.8" stroke="#4a84a8" stroke-width="0.8" />
<path d="M825 415.1 L800 415.1 C793 415.4 790.3 421 790.3 426.9 C790.3 432.5 793 438 800 438.3 L825 438.3" stroke="#4a84a8" stroke-width="1" fill="none" />
<ellipse cx="803.8" cy="426.9" rx="10.4" ry="8.3" stroke="#4a84a8" stroke-width="1" fill="none" />
<path d="M811.5 423.5 L808 423.5 Q805 426.9 808 430.3 L811.5 430.3 Z" stroke="#4a84a8" stroke-width="0.8" fill="none" />
<circle cx="818" cy="421.5" r="0.6" stroke="#4a84a8" stroke-width="0.7" fill="none"/>
<circle cx="818" cy="432.3" r="0.6" stroke="#4a84a8" stroke-width="0.7" fill="none"/>
<path d="M638.5 644.5 L766.8 644.5 L766.8 760.4 L638.5 760.4" stroke="#ff8f6b" stroke-width="0.95" fill="none" />
<line x1="644.4" y1="644.5" x2="644.4" y2="760.4" stroke="#ff8f6b" stroke-width="0.95" />
<path d="M686.2 647.2 L763.8 647.2 L763.8 757.5 L686.2 757.5 L686.2 744.2 L673.1 744.2 L673.1 660.5 L686.2 660.5 L686.2 647.2 L673.1 660.5" stroke="#ff8f6b" stroke-width="0.95" fill="none" />
<line x1="673.1" y1="744.2" x2="686.2" y2="757.5" stroke="#ff8f6b" stroke-width="0.95" />
<line x1="673.1" y1="702.5" x2="763.8" y2="702.5" stroke="#ff8f6b" stroke-width="0.95" />
<path d="M638.5 618.2 L663.7 618.2 L663.7 644.5" stroke="#ff8f6b" stroke-width="0.95" fill="none" />
<path d="M638.5 786.5 L663.7 786.5 L663.7 760.4" stroke="#ff8f6b" stroke-width="0.95" fill="none" />
<path d="M644.9 657.6 L656.8 659.8 L658 661 L664.9 660 L674.3 660.5 L670.9 675.4 L670.1 693 L652.3 688 L648 689.5 L643.7 690.3 L644.1 673.9 Z" stroke="#7d6208" stroke-width="1.1" fill="none" />
<path d="M649.5 665 L645.5 675" stroke="#7d6208" stroke-width="1" fill="none" />
<path d="M648 686 L652 688.5" stroke="#7d6208" stroke-width="1" fill="none" />
<path d="M679.8 662.8 L676 672 L674.6 693.2" stroke="#7d6208" stroke-width="1" fill="none" />
<path d="M677 668 L672.8 690" stroke="#7d6208" stroke-width="1" fill="none" />
<path d="M642.6 709.3 L656.8 710.8 L660 708.5 L669.4 708.1 L670.1 726 L673.1 739.3 L659.7 738.6 L650 741.5 L643.7 743 L644.1 727.4 Z" stroke="#7d6208" stroke-width="1.1" fill="none" />
<path d="M644.5 727 L648 735.5" stroke="#7d6208" stroke-width="1" fill="none" />
<path d="M648 712 L655 710.5" stroke="#7d6208" stroke-width="1" fill="none" />
<rect x="705.5" y="532.2" width="131.5" height="39.1" stroke="#ff8f6b" fill="none" stroke-width="0.95" />
<line x1="705.5" y1="551.2" x2="837" y2="551.2" stroke="#ff8f6b" stroke-width="0.95" />
<line x1="728.5" y1="532.2" x2="728.5" y2="571.3" stroke="#ff8f6b" stroke-width="0.95" />
<line x1="813.7" y1="532.2" x2="813.7" y2="571.3" stroke="#ff8f6b" stroke-width="0.95" />
<path d="M713 538.79 L711 548.79 L709.8 566.03" stroke="#ff8f6b" stroke-width="0.8" fill="none" />
<path d="M717.5 535.38 L716 553.51 L715.1 565.09" stroke="#ff8f6b" stroke-width="0.8" fill="none" />
<path d="M720 535.15 L722 547.05 L723.2 565.83" stroke="#ff8f6b" stroke-width="0.8" fill="none" />
<path d="M728 537.2 L731 552.98 L732.8 567.7" stroke="#ff8f6b" stroke-width="0.8" fill="none" />
<path d="M732.05 537.52 L734.05 547.8 L735.25 565.09" stroke="#ff8f6b" stroke-width="0.8" fill="none" />
<path d="M738.6 536.59 L737.1 546.23 L736.2 563.12" stroke="#ff8f6b" stroke-width="0.8" fill="none" />
<path d="M738.15 536.16 L740.15 548.66 L741.35 567.28" stroke="#ff8f6b" stroke-width="0.8" fill="none" />
<path d="M745.2 537.24 L743.2 547.74 L742 564.59" stroke="#ff8f6b" stroke-width="0.8" fill="none" />
<path d="M747.75 537.56 L746.25 552.23 L745.35 566.14" stroke="#ff8f6b" stroke-width="0.8" fill="none" />
<path d="M746.3 537.26 L749.3 551.05 L751.1 564.9" stroke="#ff8f6b" stroke-width="0.8" fill="none" />
<path d="M753.85 536.71 L752.35 552.25 L751.45 566.43" stroke="#ff8f6b" stroke-width="0.8" fill="none" />
<path d="M758.4 536.45 L755.4 549.04 L753.6 566.76" stroke="#ff8f6b" stroke-width="0.8" fill="none" />
<path d="M756.45 535.33 L758.45 550.87 L759.65 566.5" stroke="#ff8f6b" stroke-width="0.8" fill="none" />
<path d="M763.5 537.92 L761.5 556.08 L760.3 566.56" stroke="#ff8f6b" stroke-width="0.8" fill="none" />
<path d="M761.55 537.05 L764.55 550.85 L766.35 567.18" stroke="#ff8f6b" stroke-width="0.8" fill="none" />
<path d="M770.6 536.69 L767.6 546.56 L765.8 563.19" stroke="#ff8f6b" stroke-width="0.8" fill="none" />
<path d="M772.15 537.29 L770.65 548.97 L769.75 563.62" stroke="#ff8f6b" stroke-width="0.8" fill="none" />
<path d="M772.2 536.4 L773.7 553.33 L774.6 565.52" stroke="#ff8f6b" stroke-width="0.8" fill="none" />
<path d="M773.75 538.36 L776.75 550.61 L778.55 563.28" stroke="#ff8f6b" stroke-width="0.8" fill="none" />
<path d="M778.3 535.26 L779.8 548.28 L780.7 564.34" stroke="#ff8f6b" stroke-width="0.8" fill="none" />
<path d="M784.35 538.97 L782.85 549.71 L781.95 563.89" stroke="#ff8f6b" stroke-width="0.8" fill="none" />
<path d="M788.9 538.55 L785.9 555.93 L784.1 566.26" stroke="#ff8f6b" stroke-width="0.8" fill="none" />
<path d="M790.95 535.67 L788.95 548.01 L787.75 567.41" stroke="#ff8f6b" stroke-width="0.8" fill="none" />
<path d="M794 535.52 L792 550.27 L790.8 566.76" stroke="#ff8f6b" stroke-width="0.8" fill="none" />
<path d="M798.05 535.32 L795.05 550.93 L793.25 565.75" stroke="#ff8f6b" stroke-width="0.8" fill="none" />
<path d="M796.1 538.28 L798.1 549.21 L799.3 563.68" stroke="#ff8f6b" stroke-width="0.8" fill="none" />
<path d="M804.15 538.95 L801.15 550.81 L799.35 564.59" stroke="#ff8f6b" stroke-width="0.8" fill="none" />
<path d="M802.2 535.6 L804.2 549.22 L805.4 567.12" stroke="#ff8f6b" stroke-width="0.8" fill="none" />
<path d="M805.25 535.05 L807.25 546.91 L808.45 563.84" stroke="#ff8f6b" stroke-width="0.8" fill="none" />
<path d="M812.3 535.02 L810.3 549.41 L809.1 565.91" stroke="#ff8f6b" stroke-width="0.8" fill="none" />
<path d="M825.5 536.27 L824 554.7 L823.1 567.37" stroke="#ff8f6b" stroke-width="0.8" fill="none" />
<path d="M829.5 537.62 L828 550.61 L827.1 564.3" stroke="#ff8f6b" stroke-width="0.8" fill="none" />
<path d="M831.5 538.19 L833 551.31 L833.9 566.04" stroke="#ff8f6b" stroke-width="0.8" fill="none" />
<path d="M837.5 643.8 L811.3 643.8 L811.3 760.3 L837.5 760.3" stroke="#ff8f6b" stroke-width="0.95" fill="none" />
<path d="M820.3 671.9 L822.6 671.9 L822.6 719.5 L820.3 719.5 Z" stroke="#ff8f6b" stroke-width="0.95" fill="none" />
<path d="M822.6 674 L825.4 676 L825.4 715.5 L822.6 717.5" stroke="#ff8f6b" stroke-width="0.95" fill="none" />
<line x1="775.9" y1="680" x2="793.3" y2="686.6" stroke="#ff8f6b" stroke-width="0.95" />
<path d="M802.7 689.8 L820 694.6 L797.3 704" stroke="#ff8f6b" stroke-width="0.95" fill="none" />
<rect x="268.5" y="799.1" width="52" height="51.4" stroke="#ff8f6b" fill="none" stroke-width="0.95" />
<g transform="translate(294.9 776.6) rotate(0)" stroke="#ff8f6b" stroke-width="0.95" fill="none">
<ellipse cx="0" cy="-13.4" rx="16.8" ry="3.8"/>
<ellipse cx="0" cy="-12.8" rx="13.2" ry="2.3"/>
<path d="M-15.2 -13.5 C-15.6 -6 -16.6 2 -15.8 10.5 C-15 15 -8 17.3 0 17.3 C8 17.3 15 15 15.8 10.5 C16.6 2 15.6 -6 15.2 -13.5"/>
</g>
<g transform="translate(246.2 825) rotate(-90)" stroke="#ff8f6b" stroke-width="0.95" fill="none">
<ellipse cx="0" cy="-13.4" rx="16.8" ry="3.8"/>
<ellipse cx="0" cy="-12.8" rx="13.2" ry="2.3"/>
<path d="M-15.2 -13.5 C-15.6 -6 -16.6 2 -15.8 10.5 C-15 15 -8 17.3 0 17.3 C8 17.3 15 15 15.8 10.5 C16.6 2 15.6 -6 15.2 -13.5"/>
</g>
<g transform="translate(342.6 825) rotate(90)" stroke="#ff8f6b" stroke-width="0.95" fill="none">
<ellipse cx="0" cy="-13.4" rx="16.8" ry="3.8"/>
<ellipse cx="0" cy="-12.8" rx="13.2" ry="2.3"/>
<path d="M-15.2 -13.5 C-15.6 -6 -16.6 2 -15.8 10.5 C-15 15 -8 17.3 0 17.3 C8 17.3 15 15 15.8 10.5 C16.6 2 15.6 -6 15.2 -13.5"/>
</g>
<path d="M561.4 743.5 L533.3 770.3 L545.8 770.3 L561.4 755.5 L575.8 770.3 L590 770.3 Z" fill="url(#arr)" stroke="#a01828" stroke-width="0.8"/>
<line x1="561.4" y1="743.5" x2="561.4" y2="755.5" stroke="#a01828" stroke-width="0.8" />
<circle cx="611.3" cy="893.4" r="2.4" stroke="#ff6a6a" stroke-width="0.9" fill="none"/>
<line x1="613.5" y1="893.4" x2="688.8" y2="893.4" stroke="#ff6a6a" stroke-width="0.95" />
<path d="M679.6 875.4 L688.8 893.4 L679.6 910 Z" stroke="#ff6a6a" stroke-width="0.95" fill="none" />
<circle cx="500.5" cy="971.9" r="3" stroke="#ff6a6a" stroke-width="0.9" fill="none"/>
<line x1="501.6" y1="969.2" x2="522.4" y2="921.6" stroke="#ff6a6a" stroke-width="0.95" />
<path d="M506.2 915.6 L526.8 914 L538.7 929.5 Z" stroke="#ff6a6a" stroke-width="0.95" fill="none" />
<line x1="306.6" y1="17.5" x2="306.6" y2="64.1" stroke="#0d4fb0" stroke-width="2.7" />
<line x1="306.6" y1="68.3" x2="306.6" y2="78.8" stroke="#0d4fb0" stroke-width="2.7" />
<line x1="306.6" y1="89" x2="306.6" y2="128" stroke="#0d4fb0" stroke-width="2.7" />
<rect x="305.3" y="17.5" width="5" height="28.5" fill="#0d4fb0"/>
<path d="M310.1 18.3 L317.4 31.75 L310.1 45.2" stroke="#0d4fb0" stroke-width="2.1" fill="none" />
<text x="292.6" y="22.5" font-size="14" font-weight="bold" text-anchor="start" fill="#000" transform="rotate(90 292.6 22.5)" textLength="80.5" lengthAdjust="spacingAndGlyphs" stroke="#000" stroke-width="0.3">РАЗРЕЗ Г–Г</text>
<line x1="521.4" y1="17.5" x2="521.4" y2="76" stroke="#0d4fb0" stroke-width="2.7" />
<line x1="521.4" y1="86.3" x2="521.4" y2="96" stroke="#0d4fb0" stroke-width="2.7" />
<line x1="521.4" y1="105.7" x2="521.4" y2="164" stroke="#0d4fb0" stroke-width="2.7" />
<rect x="520.1" y="17.5" width="5" height="28.5" fill="#0d4fb0"/>
<path d="M524.9 18.3 L532.2 31.75 L524.9 45.2" stroke="#0d4fb0" stroke-width="2.1" fill="none" />
<text x="508.2" y="22.5" font-size="14" font-weight="bold" text-anchor="start" fill="#000" transform="rotate(90 508.2 22.5)" textLength="80.5" lengthAdjust="spacingAndGlyphs" stroke="#000" stroke-width="0.3">РАЗРЕЗ В–В</text>
<line x1="722.6" y1="17.5" x2="722.6" y2="75.9" stroke="#0d4fb0" stroke-width="2.7" />
<line x1="722.6" y1="85.6" x2="722.6" y2="96.6" stroke="#0d4fb0" stroke-width="2.7" />
<line x1="722.6" y1="106.3" x2="722.6" y2="164.9" stroke="#0d4fb0" stroke-width="2.7" />
<rect x="721.3" y="17.5" width="5" height="28.5" fill="#0d4fb0"/>
<path d="M726.1 18.3 L733.4 31.75 L726.1 45.2" stroke="#0d4fb0" stroke-width="2.1" fill="none" />
<text x="709" y="22.8" font-size="14" font-weight="bold" text-anchor="start" fill="#000" transform="rotate(90 709 22.8)" textLength="80.5" lengthAdjust="spacingAndGlyphs" stroke="#000" stroke-width="0.3">РАЗРЕЗ Б–Б</text>
<line x1="308.5" y1="889.1" x2="308.5" y2="921.2" stroke="#0d4fb0" stroke-width="2.7" />
<line x1="308.5" y1="932.8" x2="308.5" y2="941.5" stroke="#0d4fb0" stroke-width="2.7" />
<line x1="308.5" y1="951.4" x2="308.5" y2="1011.5" stroke="#0d4fb0" stroke-width="2.7" />
<line x1="308.5" y1="1023.4" x2="308.5" y2="1033" stroke="#0d4fb0" stroke-width="2.7" />
<line x1="308.5" y1="1044" x2="308.5" y2="1076.7" stroke="#0d4fb0" stroke-width="2.7" />
<rect x="307.2" y="1048.2" width="5" height="28.5" fill="#0d4fb0"/>
<path d="M312 1049 L319.3 1062.45 L312 1075.9" stroke="#0d4fb0" stroke-width="2.1" fill="none" />
<text x="295.4" y="997" font-size="14" font-weight="bold" text-anchor="start" fill="#000" transform="rotate(90 295.4 997)" textLength="80.5" lengthAdjust="spacingAndGlyphs" stroke="#000" stroke-width="0.3">РАЗРЕЗ Г–Г</text>
<line x1="523.5" y1="889.6" x2="523.5" y2="921.6" stroke="#0d4fb0" stroke-width="2.7" />
<line x1="523.5" y1="931.1" x2="523.5" y2="941.8" stroke="#0d4fb0" stroke-width="2.7" />
<line x1="523.5" y1="950.9" x2="523.5" y2="1013.5" stroke="#0d4fb0" stroke-width="2.7" />
<line x1="523.5" y1="1023.4" x2="523.5" y2="1033.4" stroke="#0d4fb0" stroke-width="2.7" />
<line x1="523.5" y1="1044.1" x2="523.5" y2="1076" stroke="#0d4fb0" stroke-width="2.7" />
<rect x="522.2" y="1047.5" width="5" height="28.5" fill="#0d4fb0"/>
<path d="M527 1048.3 L534.3 1061.75 L527 1075.2" stroke="#0d4fb0" stroke-width="2.1" fill="none" />
<text x="510.4" y="996" font-size="14" font-weight="bold" text-anchor="start" fill="#000" transform="rotate(90 510.4 996)" textLength="80.5" lengthAdjust="spacingAndGlyphs" stroke="#000" stroke-width="0.3">РАЗРЕЗ В–В</text>
<line x1="722.6" y1="1153" x2="722.6" y2="1204.4" stroke="#0d4fb0" stroke-width="2.7" />
<line x1="722.6" y1="1213.9" x2="722.6" y2="1224.5" stroke="#0d4fb0" stroke-width="2.7" />
<line x1="722.6" y1="1234" x2="722.6" y2="1286" stroke="#0d4fb0" stroke-width="2.7" />
<rect x="721.3" y="1257.5" width="5" height="28.5" fill="#0d4fb0"/>
<path d="M726.1 1258.3 L733.4 1271.75 L726.1 1285.2" stroke="#0d4fb0" stroke-width="2.1" fill="none" />
<text x="706.2" y="1173" font-size="14" font-weight="bold" text-anchor="start" fill="#000" transform="rotate(90 706.2 1173)" textLength="80.5" lengthAdjust="spacingAndGlyphs" stroke="#000" stroke-width="0.3">РАЗРЕЗ Б–Б</text>
<line x1="28.7" y1="605.3" x2="72.3" y2="605.3" stroke="#0d4fb0" stroke-width="2.7" />
<line x1="78.9" y1="605.3" x2="88.7" y2="605.3" stroke="#0d4fb0" stroke-width="2.7" />
<line x1="98" y1="605.3" x2="159.6" y2="605.3" stroke="#0d4fb0" stroke-width="2.7" />
<line x1="170.5" y1="605.3" x2="180.3" y2="605.3" stroke="#0d4fb0" stroke-width="2.7" />
<line x1="190" y1="605.3" x2="228.9" y2="605.3" stroke="#0d4fb0" stroke-width="2.7" />
<rect x="28.7" y="600.2" width="30.1" height="2.4" fill="#0d4fb0"/>
<path d="M29.5 601 L43.15 594.3 L58 601" stroke="#0d4fb0" stroke-width="2.1" fill="none" />
<text x="28.7" y="617.7" font-size="14" font-weight="bold" text-anchor="start" fill="#000" textLength="81.8" lengthAdjust="spacingAndGlyphs" stroke="#000" stroke-width="0.3">РАЗРЕЗ А–А</text>
<line x1="801.3" y1="605.3" x2="815" y2="605.3" stroke="#0d4fb0" stroke-width="2.7" />
<line x1="824.7" y1="605.3" x2="835.6" y2="605.3" stroke="#0d4fb0" stroke-width="2.7" />
<line x1="845.4" y1="605.3" x2="907.2" y2="605.3" stroke="#0d4fb0" stroke-width="2.7" />
<line x1="917" y1="605.3" x2="927.8" y2="605.3" stroke="#0d4fb0" stroke-width="2.7" />
<line x1="937.6" y1="605.3" x2="982.7" y2="605.3" stroke="#0d4fb0" stroke-width="2.7" />
<rect x="953.9" y="600.2" width="28.8" height="2.4" fill="#0d4fb0"/>
<path d="M954.7 601 L967.7 594.3 L981.9 601" stroke="#0d4fb0" stroke-width="2.1" fill="none" />
<text x="901" y="617.7" font-size="14" font-weight="bold" text-anchor="start" fill="#000" textLength="81.8" lengthAdjust="spacingAndGlyphs" stroke="#000" stroke-width="0.3">РАЗРЕЗ А–А</text>
<g transform="translate(964.3 48.9) rotate(22)">
<circle r="20.3" fill="none" stroke="#000" stroke-width="1"/>
<circle r="22.3" fill="none" stroke="#000" stroke-width="3" stroke-dasharray="2.4 1.7"/>
<g transform="rotate(0)"><path d="M0 0 L3.6 -3.6 L20.8 0 Z" fill="#000"/><path d="M0 0 L3.6 3.6 L20.8 0 Z" fill="#fff" stroke="#000" stroke-width="0.7"/><line x1="0" y1="0" x2="14.35" y2="14.35" stroke="#000" stroke-width="0.8"/></g>
<g transform="rotate(90)"><path d="M0 0 L3.6 -3.6 L20.8 0 Z" fill="#000"/><path d="M0 0 L3.6 3.6 L20.8 0 Z" fill="#fff" stroke="#000" stroke-width="0.7"/><line x1="0" y1="0" x2="14.35" y2="14.35" stroke="#000" stroke-width="0.8"/></g>
<g transform="rotate(180)"><path d="M0 0 L3.6 -3.6 L20.8 0 Z" fill="#000"/><path d="M0 0 L3.6 3.6 L20.8 0 Z" fill="#fff" stroke="#000" stroke-width="0.7"/><line x1="0" y1="0" x2="14.35" y2="14.35" stroke="#000" stroke-width="0.8"/></g>
<g transform="rotate(270)"><path d="M0 0 L3.6 -3.6 L20.8 0 Z" fill="#000"/><path d="M0 0 L3.6 3.6 L20.8 0 Z" fill="#fff" stroke="#000" stroke-width="0.7"/><line x1="0" y1="0" x2="14.35" y2="14.35" stroke="#000" stroke-width="0.8"/></g>
<g transform="rotate(0) translate(29.8 0) rotate(90)"><text x="0" y="3" font-size="8.6" font-weight="bold" text-anchor="middle" stroke="#000" stroke-width="0.3">С</text></g>
<g transform="rotate(90) translate(29.8 0) rotate(90)"><text x="0" y="3" font-size="8.6" font-weight="bold" text-anchor="middle" stroke="#000" stroke-width="0.3">И</text></g>
<g transform="rotate(180) translate(29.8 0) rotate(90)"><text x="0" y="3" font-size="8.6" font-weight="bold" text-anchor="middle" stroke="#000" stroke-width="0.3">Ю</text></g>
<g transform="rotate(270) translate(29.8 0) rotate(90)"><text x="0" y="3" font-size="8.6" font-weight="bold" text-anchor="middle" stroke="#000" stroke-width="0.3">З</text></g>
</g>
<text x="778.5" y="1030.8" font-size="12.8" font-weight="bold" text-anchor="middle" fill="#ff6262" textLength="18.5" lengthAdjust="spacingAndGlyphs" stroke="#ff6262" stroke-width="0.4">1%</text>
<line x1="757.4" y1="1033.5" x2="804.7" y2="1033.5" stroke="#ff6262" stroke-width="1" />
<path d="M793.7 1030.5 L804.7 1033.5 L793.7 1036.5 Z" stroke="#ff6262" stroke-width="1" fill="none" />
<text x="806.1" y="898.7" font-size="12.8" font-weight="bold" text-anchor="middle" fill="#ff6262" transform="rotate(-90 806.1 898.7)" textLength="18.7" lengthAdjust="spacingAndGlyphs" stroke="#ff6262" stroke-width="0.4">1%</text>
<line x1="808.6" y1="878.2" x2="808.6" y2="926.6" stroke="#ff6262" stroke-width="1" />
<path d="M805.4 914.3 L808.6 923.6 L811.8 914.3 Z" stroke="#ff6262" stroke-width="1" fill="none" />
<text x="813.2" y="1188" font-size="12.8" font-weight="bold" text-anchor="middle" fill="#ff6262" transform="rotate(-90 813.2 1188)" textLength="18.7" lengthAdjust="spacingAndGlyphs" stroke="#ff6262" stroke-width="0.4">1%</text>
<line x1="814.6" y1="1161.3" x2="814.6" y2="1209.6" stroke="#ff6262" stroke-width="1" />
<path d="M811.2 1172.8 L814.6 1164 L818 1172.8 Z" stroke="#ff6262" stroke-width="1" fill="none" />
<text x="732.7" y="1021.3" font-size="13.4" font-weight="bold" text-anchor="middle" fill="#000" textLength="55.5" lengthAdjust="spacingAndGlyphs" stroke="#000" stroke-width="0.4">ПОКРИВ</text>
<rect x="281.3" y="211.7" width="26" height="12.7" stroke="#000" fill="#fff" stroke-width="1.1" />
<text x="294.3" y="221.9" font-size="9.3" font-weight="bold" text-anchor="middle" fill="#000" textLength="16" lengthAdjust="spacingAndGlyphs" stroke="#000" stroke-width="0.3">102</text>
<text x="294.3" y="236.3" font-size="10.4" font-weight="bold" text-anchor="middle" fill="#000" textLength="63" lengthAdjust="spacingAndGlyphs" stroke="#000" stroke-width="0.35">КУХН. БОКС</text>
<text x="296.3" y="246.3" font-size="8.8" font-weight="bold" text-anchor="middle" fill="#000" textLength="31" lengthAdjust="spacingAndGlyphs" stroke="#000" stroke-width="0.2">6,67 m²</text>
<rect x="510.7" y="185.7" width="26" height="12.7" stroke="#000" fill="#fff" stroke-width="1.1" />
<text x="523.7" y="195.9" font-size="9.3" font-weight="bold" text-anchor="middle" fill="#000" textLength="16" lengthAdjust="spacingAndGlyphs" stroke="#000" stroke-width="0.3">106</text>
<text x="523.7" y="210.3" font-size="10.4" font-weight="bold" text-anchor="middle" fill="#000" textLength="34" lengthAdjust="spacingAndGlyphs" stroke="#000" stroke-width="0.35">КИЛЕР</text>
<text x="525.7" y="220.3" font-size="8.8" font-weight="bold" text-anchor="middle" fill="#000" textLength="31" lengthAdjust="spacingAndGlyphs" stroke="#000" stroke-width="0.2">6,13 m²</text>
<rect x="560.95" y="267.3" width="24.7" height="12.7" stroke="#000" fill="#fff" stroke-width="1.1" />
<text x="573.3" y="277.5" font-size="9.3" font-weight="bold" text-anchor="middle" fill="#000" textLength="16" lengthAdjust="spacingAndGlyphs" stroke="#000" stroke-width="0.3">109</text>
<text x="573.3" y="291.9" font-size="10.4" font-weight="bold" text-anchor="middle" fill="#000" textLength="35" lengthAdjust="spacingAndGlyphs" stroke="#000" stroke-width="0.35">СКЛАД</text>
<text x="575.3" y="301.9" font-size="8.8" font-weight="bold" text-anchor="middle" fill="#000" textLength="30" lengthAdjust="spacingAndGlyphs" stroke="#000" stroke-width="0.2">1,78 m²</text>
<rect x="713" y="289.2" width="26" height="12.7" stroke="#000" fill="#fff" stroke-width="1.1" />
<text x="726" y="299.4" font-size="9.3" font-weight="bold" text-anchor="middle" fill="#000" textLength="16" lengthAdjust="spacingAndGlyphs" stroke="#000" stroke-width="0.3">107</text>
<text x="726" y="313.8" font-size="10.4" font-weight="bold" text-anchor="middle" fill="#000" textLength="52" lengthAdjust="spacingAndGlyphs" stroke="#000" stroke-width="0.35">КОТЕЛНО</text>
<text x="728" y="323.8" font-size="8.8" font-weight="bold" text-anchor="middle" fill="#000" textLength="31" lengthAdjust="spacingAndGlyphs" stroke="#000" stroke-width="0.2">6,38 m²</text>
<rect x="515.1" y="449.9" width="26" height="12.7" stroke="#000" fill="#fff" stroke-width="1.1" />
<text x="528.1" y="460.1" font-size="9.3" font-weight="bold" text-anchor="middle" fill="#000" textLength="16" lengthAdjust="spacingAndGlyphs" stroke="#000" stroke-width="0.3">103</text>
<text x="528.1" y="474.5" font-size="10.4" font-weight="bold" text-anchor="middle" fill="#000" textLength="57" lengthAdjust="spacingAndGlyphs" stroke="#000" stroke-width="0.35">ВХ. АНТРЕ</text>
<text x="530.1" y="484.5" font-size="8.8" font-weight="bold" text-anchor="middle" fill="#000" textLength="35" lengthAdjust="spacingAndGlyphs" stroke="#000" stroke-width="0.2">14,09 m²</text>
<rect x="758.5" y="400.3" width="26" height="12.7" stroke="#000" fill="#fff" stroke-width="1.1" />
<text x="771.5" y="410.5" font-size="9.3" font-weight="bold" text-anchor="middle" fill="#000" textLength="16" lengthAdjust="spacingAndGlyphs" stroke="#000" stroke-width="0.3">105</text>
<text x="771.5" y="424.9" font-size="10.4" font-weight="bold" text-anchor="middle" fill="#000" textLength="51" lengthAdjust="spacingAndGlyphs" stroke="#000" stroke-width="0.35">БАНЯ-WC</text>
<text x="773.5" y="434.9" font-size="8.8" font-weight="bold" text-anchor="middle" fill="#000" textLength="31" lengthAdjust="spacingAndGlyphs" stroke="#000" stroke-width="0.2">4,32 m²</text>
<rect x="328.5" y="502.2" width="25.4" height="12.7" stroke="#000" fill="#fff" stroke-width="1.1" />
<text x="341.2" y="512.4" font-size="9.3" font-weight="normal" text-anchor="middle" fill="#000" textLength="16" lengthAdjust="spacingAndGlyphs" >101</text>
<text x="341.2" y="526.8" font-size="10.4" font-weight="bold" text-anchor="middle" fill="#000" textLength="120.5" lengthAdjust="spacingAndGlyphs" stroke="#000" stroke-width="0.35">ДНЕВНА ТРАПЕЗАРИЯ</text>
<text x="343.2" y="536.8" font-size="8.8" font-weight="bold" text-anchor="middle" fill="#000" textLength="35" lengthAdjust="spacingAndGlyphs" stroke="#000" stroke-width="0.2">27,26 m²</text>
<rect x="770.5" y="576.2" width="26" height="12.7" stroke="#000" fill="#fff" stroke-width="1.1" />
<text x="783.5" y="586.4" font-size="9.3" font-weight="bold" text-anchor="middle" fill="#000" textLength="16" lengthAdjust="spacingAndGlyphs" stroke="#000" stroke-width="0.3">104</text>
<text x="783.5" y="600.8" font-size="10.4" font-weight="bold" text-anchor="middle" fill="#000" textLength="45" lengthAdjust="spacingAndGlyphs" stroke="#000" stroke-width="0.35">СПАЛНЯ</text>
<text x="785.5" y="610.8" font-size="8.8" font-weight="bold" text-anchor="middle" fill="#000" textLength="35" lengthAdjust="spacingAndGlyphs" stroke="#000" stroke-width="0.2">13,52 m²</text>
<rect x="283" y="807.2" width="26.8" height="12.7" stroke="#000" fill="#fff" stroke-width="1.1" />
<text x="296.4" y="817.4" font-size="9.3" font-weight="bold" text-anchor="middle" fill="#000" textLength="16" lengthAdjust="spacingAndGlyphs" stroke="#000" stroke-width="0.3">108</text>
<text x="296.4" y="831.8" font-size="10.4" font-weight="bold" text-anchor="middle" fill="#000" textLength="43" lengthAdjust="spacingAndGlyphs" stroke="#000" stroke-width="0.35">ТЕРАСА</text>
<text x="298.4" y="841.8" font-size="8.8" font-weight="bold" text-anchor="middle" fill="#000" textLength="35" lengthAdjust="spacingAndGlyphs" stroke="#000" stroke-width="0.2">12,86 m²</text>
<text x="480.5" y="436" font-size="8.6" font-weight="bold" text-anchor="start" fill="#000" stroke="#000" stroke-width="0.25">1</text>
<text x="480.5" y="416.5" font-size="8.6" font-weight="bold" text-anchor="start" fill="#000" stroke="#000" stroke-width="0.25">2</text>
<text x="480.5" y="397.2" font-size="8.6" font-weight="bold" text-anchor="start" fill="#000" stroke="#000" stroke-width="0.25">3</text>
<text x="480.5" y="378" font-size="8.6" font-weight="bold" text-anchor="start" fill="#000" stroke="#000" stroke-width="0.25">4</text>
<text x="480.5" y="358.6" font-size="8.6" font-weight="bold" text-anchor="start" fill="#000" stroke="#000" stroke-width="0.25">5</text>
<text x="480.5" y="339.4" font-size="8.6" font-weight="bold" text-anchor="start" fill="#000" stroke="#000" stroke-width="0.25">6</text>
<text x="480.5" y="320.2" font-size="8.6" font-weight="bold" text-anchor="start" fill="#000" stroke="#000" stroke-width="0.25">7</text>
<text x="480.5" y="301" font-size="8.6" font-weight="bold" text-anchor="start" fill="#000" stroke="#000" stroke-width="0.25">8</text>
<text x="480.5" y="281.8" font-size="8.6" font-weight="bold" text-anchor="start" fill="#000" stroke="#000" stroke-width="0.25">9</text>
<text x="480.5" y="262.7" font-size="8.6" font-weight="bold" text-anchor="start" fill="#000" stroke="#000" stroke-width="0.25">10</text>
<text x="480.5" y="243.5" font-size="8.6" font-weight="bold" text-anchor="start" fill="#000" stroke="#000" stroke-width="0.25">11</text>
<text x="480.5" y="222.7" font-size="8.6" font-weight="bold" text-anchor="start" fill="#000" stroke="#000" stroke-width="0.25">12</text>
<text x="609" y="234.1" font-size="8.6" font-weight="bold" text-anchor="middle" fill="#000" stroke="#000" stroke-width="0.25">13</text>
<text x="609" y="253.2" font-size="8.6" font-weight="bold" text-anchor="middle" fill="#000" stroke="#000" stroke-width="0.25">14</text>
<text x="609" y="272.3" font-size="8.6" font-weight="bold" text-anchor="middle" fill="#000" stroke="#000" stroke-width="0.25">15</text>
<text x="609" y="291.4" font-size="8.6" font-weight="bold" text-anchor="middle" fill="#000" stroke="#000" stroke-width="0.25">16</text>
<text x="609" y="310.5" font-size="8.6" font-weight="bold" text-anchor="middle" fill="#000" stroke="#000" stroke-width="0.25">17</text>
<text x="609" y="329.6" font-size="8.6" font-weight="bold" text-anchor="middle" fill="#000" stroke="#000" stroke-width="0.25">18</text>
<text x="609" y="348.7" font-size="8.6" font-weight="bold" text-anchor="middle" fill="#000" stroke="#000" stroke-width="0.25">19</text>
<text x="609" y="366.5" font-size="6" font-weight="bold" text-anchor="middle" fill="#000" stroke="#000" stroke-width="0.25">20</text>
<text x="507.5" y="344" font-size="12.6" font-weight="bold" text-anchor="middle" fill="#000" transform="rotate(-90 507.5 344)" textLength="91" lengthAdjust="spacingAndGlyphs" stroke="#000" stroke-width="0.35">12 ст. 16,33/30</text>
<text x="650.3" y="888.7" font-size="12.6" font-weight="bold" text-anchor="middle" fill="#000" textLength="68.5" lengthAdjust="spacingAndGlyphs" stroke="#000" stroke-width="0.35">5ст 16,8/30</text>
<text x="616.2" y="916" font-size="12" font-weight="bold" text-anchor="middle" fill="#000" transform="rotate(90 616.2 916)" >1</text>
<text x="635.4" y="916" font-size="12" font-weight="bold" text-anchor="middle" fill="#000" transform="rotate(90 635.4 916)" >2</text>
<text x="654.5" y="916" font-size="12" font-weight="bold" text-anchor="middle" fill="#000" transform="rotate(90 654.5 916)" >3</text>
<text x="673.5" y="916" font-size="12" font-weight="bold" text-anchor="middle" fill="#000" transform="rotate(90 673.5 916)" >4</text>
<text x="692.2" y="916" font-size="12" font-weight="bold" text-anchor="middle" fill="#000" transform="rotate(90 692.2 916)" >5</text>
<text x="603.6" y="928.8" font-size="12" font-weight="bold" text-anchor="middle" fill="#000" >4</text>
<text x="603.6" y="949.5" font-size="12" font-weight="bold" text-anchor="middle" fill="#000" >3</text>
<text x="603.6" y="971.3" font-size="12" font-weight="bold" text-anchor="middle" fill="#000" >2</text>
<text x="603.6" y="992.8" font-size="12" font-weight="bold" text-anchor="middle" fill="#000" >1</text>
<text x="506.8" y="945.6" font-size="12" font-weight="bold" text-anchor="middle" fill="#000" transform="rotate(-65 506.8 945.6)" textLength="57" lengthAdjust="spacingAndGlyphs" stroke="#000" stroke-width="0.35">4ст 15/33</text>
<circle cx="73.6" cy="144.5" r="9.7" stroke="#000" stroke-width="1.1" fill="#fff"/>
<text x="73.6" y="148.8" font-size="12" font-weight="bold" text-anchor="middle" fill="#000" >Ж</text>
<circle cx="992.5" cy="144.5" r="9.7" stroke="#000" stroke-width="1.1" fill="#fff"/>
<text x="992.5" y="148.8" font-size="12" font-weight="bold" text-anchor="middle" fill="#000" >Ж</text>
<circle cx="73.6" cy="228.5" r="9.7" stroke="#000" stroke-width="1.1" fill="#fff"/>
<text x="73.6" y="232.8" font-size="12" font-weight="bold" text-anchor="middle" fill="#000" >Е</text>
<circle cx="992.5" cy="228.5" r="9.7" stroke="#000" stroke-width="1.1" fill="#fff"/>
<text x="992.5" y="232.8" font-size="12" font-weight="bold" text-anchor="middle" fill="#000" >Е</text>
<circle cx="73.6" cy="370.5" r="9.7" stroke="#000" stroke-width="1.1" fill="#fff"/>
<text x="73.6" y="374.8" font-size="12" font-weight="bold" text-anchor="middle" fill="#000" >Д</text>
<circle cx="992.5" cy="370.5" r="9.7" stroke="#000" stroke-width="1.1" fill="#fff"/>
<text x="992.5" y="374.8" font-size="12" font-weight="bold" text-anchor="middle" fill="#000" >Д</text>
<circle cx="73.6" cy="715.5" r="9.7" stroke="#000" stroke-width="1.1" fill="#fff"/>
<text x="73.6" y="719.8" font-size="12" font-weight="bold" text-anchor="middle" fill="#000" >Г</text>
<circle cx="992.5" cy="715.5" r="9.7" stroke="#000" stroke-width="1.1" fill="#fff"/>
<text x="992.5" y="719.8" font-size="12" font-weight="bold" text-anchor="middle" fill="#000" >Г</text>
<circle cx="73.6" cy="821.5" r="9.7" stroke="#000" stroke-width="1.1" fill="#fff"/>
<text x="73.6" y="825.8" font-size="12" font-weight="bold" text-anchor="middle" fill="#000" >В</text>
<circle cx="992.5" cy="821.5" r="9.7" stroke="#000" stroke-width="1.1" fill="#fff"/>
<text x="992.5" y="825.8" font-size="12" font-weight="bold" text-anchor="middle" fill="#000" >В</text>
<circle cx="534.6" cy="849.5" r="9.7" stroke="#000" stroke-width="1.1" fill="#fff"/>
<text x="534.6" y="853.8" font-size="12" font-weight="bold" text-anchor="middle" fill="#000" >Б</text>
<circle cx="992.5" cy="849.5" r="9.7" stroke="#000" stroke-width="1.1" fill="#fff"/>
<text x="992.5" y="853.8" font-size="12" font-weight="bold" text-anchor="middle" fill="#000" >Б</text>
<circle cx="534" cy="1245.5" r="9.7" stroke="#000" stroke-width="1.1" fill="#fff"/>
<text x="534" y="1249.8" font-size="12" font-weight="bold" text-anchor="middle" fill="#000" >А</text>
<circle cx="993" cy="1245.5" r="9.7" stroke="#000" stroke-width="1.1" fill="#fff"/>
<text x="993" y="1249.8" font-size="12" font-weight="bold" text-anchor="middle" fill="#000" >А</text>
<circle cx="186.5" cy="30.8" r="9.7" stroke="#000" stroke-width="1.1" fill="#fff"/>
<text x="186.5" y="35.1" font-size="12" font-weight="bold" text-anchor="middle" fill="#000" >1</text>
<circle cx="186.5" cy="989.2" r="9.7" stroke="#000" stroke-width="1.1" fill="#fff"/>
<text x="186.5" y="993.5" font-size="12" font-weight="bold" text-anchor="middle" fill="#000" >1</text>
<circle cx="466.5" cy="30.8" r="9.7" stroke="#000" stroke-width="1.1" fill="#fff"/>
<text x="466.5" y="35.1" font-size="12" font-weight="bold" text-anchor="middle" fill="#000" >2</text>
<circle cx="466.5" cy="989.2" r="9.7" stroke="#000" stroke-width="1.1" fill="#fff"/>
<text x="466.5" y="993.5" font-size="12" font-weight="bold" text-anchor="middle" fill="#000" >2</text>
<circle cx="627.5" cy="30.8" r="9.7" stroke="#000" stroke-width="1.1" fill="#fff"/>
<text x="627.5" y="35.1" font-size="12" font-weight="bold" text-anchor="middle" fill="#000" >3</text>
<circle cx="627.5" cy="1325" r="9.7" stroke="#000" stroke-width="1.1" fill="#fff"/>
<text x="627.5" y="1329.3" font-size="12" font-weight="bold" text-anchor="middle" fill="#000" >3</text>
<circle cx="847.5" cy="30.8" r="9.7" stroke="#000" stroke-width="1.1" fill="#fff"/>
<text x="847.5" y="35.1" font-size="12" font-weight="bold" text-anchor="middle" fill="#000" >4</text>
<circle cx="847.5" cy="1325" r="9.7" stroke="#000" stroke-width="1.1" fill="#fff"/>
<text x="847.5" y="1329.3" font-size="12" font-weight="bold" text-anchor="middle" fill="#000" >4</text>
<rect x="140" y="78" width="130" height="46" fill="#fff"/>
<text x="146.2" y="108.3" font-size="29.5" font-weight="normal" text-anchor="start" fill="#111" textLength="34.8" lengthAdjust="spacingAndGlyphs" style='font-family:"Liberation Serif",serif' stroke="#111" stroke-width="0.45">BG</text>
<text x="188.6" y="108.3" font-size="29.5" font-weight="normal" text-anchor="start" fill="#111" textLength="74" lengthAdjust="spacingAndGlyphs" style='font-family:"Liberation Serif",serif' stroke="#111" stroke-width="0.45">Broker</text>
<path d="M185.2 94.6 Q192 103.5 198.6 91.8 Q192.3 98.6 185.2 94.6 Z" stroke="#c81e2e" stroke-width="1" fill="#c81e2e" />
<circle cx="264.6" cy="94.3" r="0.8" stroke="#111" stroke-width="0.5" fill="#111"/>
<g stroke="#000" stroke-width="0.22">
<rect x="12.3" y="1082" width="475.1" height="261.4" stroke="none" fill="#dcdcdc" stroke-width="0" />
<rect x="12.3" y="1126" width="475.1" height="22.1" stroke="none" fill="#e2e2e2" stroke-width="0" />
<line x1="12.3" y1="1148.1" x2="487.4" y2="1148.1" stroke="#000" stroke-width="1.1" />
<line x1="12.3" y1="1169.4" x2="487.4" y2="1169.4" stroke="#000" stroke-width="1.1" />
<line x1="12.3" y1="1191.2" x2="487.4" y2="1191.2" stroke="#000" stroke-width="1.1" />
<line x1="12.3" y1="1213.1" x2="487.4" y2="1213.1" stroke="#000" stroke-width="1.1" />
<line x1="12.3" y1="1235" x2="487.4" y2="1235" stroke="#000" stroke-width="1.1" />
<line x1="12.3" y1="1257" x2="487.4" y2="1257" stroke="#000" stroke-width="1.1" />
<line x1="12.3" y1="1279" x2="487.4" y2="1279" stroke="#000" stroke-width="1.1" />
<line x1="12.3" y1="1300.8" x2="487.4" y2="1300.8" stroke="#000" stroke-width="1.1" />
<line x1="12.3" y1="1322.7" x2="487.4" y2="1322.7" stroke="#000" stroke-width="1.1" />
<line x1="12.3" y1="1343.4" x2="487.4" y2="1343.4" stroke="#000" stroke-width="1.1" />
<line x1="12.3" y1="1148.1" x2="12.3" y2="1343.4" stroke="#000" stroke-width="1.1" />
<line x1="12.3" y1="1082" x2="12.3" y2="1126" stroke="#000" stroke-width="1.1" />
<line x1="33" y1="1148.1" x2="33" y2="1343.4" stroke="#000" stroke-width="1.1" />
<line x1="33" y1="1082" x2="33" y2="1126" stroke="#000" stroke-width="1.1" />
<line x1="164.4" y1="1148.1" x2="164.4" y2="1343.4" stroke="#000" stroke-width="1.1" />
<line x1="164.4" y1="1082" x2="164.4" y2="1126" stroke="#000" stroke-width="1.1" />
<line x1="236.6" y1="1148.1" x2="236.6" y2="1343.4" stroke="#000" stroke-width="1.1" />
<line x1="236.6" y1="1082" x2="236.6" y2="1126" stroke="#000" stroke-width="1.1" />
<line x1="309.5" y1="1148.1" x2="309.5" y2="1343.4" stroke="#000" stroke-width="1.1" />
<line x1="309.5" y1="1082" x2="309.5" y2="1126" stroke="#000" stroke-width="1.1" />
<line x1="381.7" y1="1148.1" x2="381.7" y2="1343.4" stroke="#000" stroke-width="1.1" />
<line x1="381.7" y1="1082" x2="381.7" y2="1126" stroke="#000" stroke-width="1.1" />
<line x1="416.5" y1="1148.1" x2="416.5" y2="1343.4" stroke="#000" stroke-width="1.1" />
<line x1="416.5" y1="1082" x2="416.5" y2="1126" stroke="#000" stroke-width="1.1" />
<line x1="451.6" y1="1148.1" x2="451.6" y2="1343.4" stroke="#000" stroke-width="1.1" />
<line x1="451.6" y1="1082" x2="451.6" y2="1126" stroke="#000" stroke-width="1.1" />
<line x1="487.4" y1="1148.1" x2="487.4" y2="1343.4" stroke="#000" stroke-width="1.1" />
<line x1="487.4" y1="1082" x2="487.4" y2="1126" stroke="#000" stroke-width="1.1" />
<line x1="12.3" y1="1126" x2="12.3" y2="1148.1" stroke="#000" stroke-width="1.1" />
<line x1="487.4" y1="1126" x2="487.4" y2="1148.1" stroke="#000" stroke-width="1.1" />
<rect x="11.9" y="1082" width="475.9" height="44" stroke="#000" fill="none" stroke-width="2.6" />
<text x="17" y="1108" font-size="9" font-weight="bold" text-anchor="start" fill="#000" textLength="10.5" lengthAdjust="spacingAndGlyphs" >No</text>
<text x="98.7" y="1108" font-size="9.6" font-weight="bold" text-anchor="middle" fill="#000" textLength="64" lengthAdjust="spacingAndGlyphs" >ПОМЕЩЕНИЕ</text>
<text x="200.5" y="1108" font-size="9.6" font-weight="bold" text-anchor="middle" fill="#000" textLength="21" lengthAdjust="spacingAndGlyphs" >ПОД</text>
<text x="273.05" y="1108" font-size="9.6" font-weight="bold" text-anchor="middle" fill="#000" textLength="33" lengthAdjust="spacingAndGlyphs" >СТЕНИ</text>
<text x="345.6" y="1108" font-size="9.6" font-weight="bold" text-anchor="middle" fill="#000" textLength="33" lengthAdjust="spacingAndGlyphs" >ТАВАН</text>
<text x="399.1" y="1101" font-size="9.6" font-weight="bold" text-anchor="middle" fill="#000" textLength="21" lengthAdjust="spacingAndGlyphs" >Н св.</text>
<text x="399.1" y="1113" font-size="9.6" font-weight="bold" text-anchor="middle" fill="#000" textLength="13" lengthAdjust="spacingAndGlyphs" >(м)</text>
<text x="434.05" y="1097" font-size="7.8" font-weight="bold" text-anchor="middle" fill="#000" textLength="22" lengthAdjust="spacingAndGlyphs" >ПЕРИ-</text>
<text x="434.05" y="1106.3" font-size="7.8" font-weight="bold" text-anchor="middle" fill="#000" textLength="27" lengthAdjust="spacingAndGlyphs" >МЕТЪР</text>
<text x="434.05" y="1115.6" font-size="7.8" font-weight="bold" text-anchor="middle" fill="#000" textLength="10" lengthAdjust="spacingAndGlyphs" >(м)</text>
<text x="469.5" y="1101" font-size="9.6" font-weight="bold" text-anchor="middle" fill="#000" textLength="30" lengthAdjust="spacingAndGlyphs" >ПЛОЩ</text>
<text x="469.5" y="1113" font-size="9.6" font-weight="bold" text-anchor="middle" fill="#000" textLength="17" lengthAdjust="spacingAndGlyphs" >(м2)</text>
<text x="33" y="1141" font-size="10" font-weight="bold" text-anchor="start" fill="#000" textLength="126" lengthAdjust="spacingAndGlyphs" >ПЪРВИ ЕТАЖ - КОТА ±0.00</text>
<text x="480.3" y="1140" font-size="10" font-weight="bold" text-anchor="end" fill="#000" textLength="146" lengthAdjust="spacingAndGlyphs" >ЗАСТРОЕНА ПЛОЩ - 100,06 м2</text>
<text x="23.5" y="1162.1" font-size="9.6" font-weight="bold" text-anchor="middle" fill="#000" textLength="15.5" lengthAdjust="spacingAndGlyphs" >101</text>
<text x="41.2" y="1162.1" font-size="10" font-weight="bold" text-anchor="start" fill="#000" textLength="108" lengthAdjust="spacingAndGlyphs" >ДНЕВНА-ТРАПЕЗАРИЯ</text>
<text x="200.5" y="1162.1" font-size="9.4" font-weight="bold" text-anchor="middle" fill="#000" textLength="30" lengthAdjust="spacingAndGlyphs" >паркет</text>
<text x="273.05" y="1162.1" font-size="9.4" font-weight="bold" text-anchor="middle" fill="#000" textLength="29" lengthAdjust="spacingAndGlyphs" >латекс</text>
<text x="345.6" y="1162.1" font-size="9.4" font-weight="bold" text-anchor="middle" fill="#000" textLength="29" lengthAdjust="spacingAndGlyphs" >латекс</text>
<text x="399.1" y="1162.1" font-size="9.6" font-weight="bold" text-anchor="middle" fill="#000" textLength="18" lengthAdjust="spacingAndGlyphs" >2.93</text>
<text x="434.05" y="1162.1" font-size="9.6" font-weight="bold" text-anchor="middle" fill="#000" textLength="23" lengthAdjust="spacingAndGlyphs" >20,03</text>
<text x="469.5" y="1162.1" font-size="9.6" font-weight="bold" text-anchor="middle" fill="#000" textLength="24" lengthAdjust="spacingAndGlyphs" >27,26</text>
<text x="23.5" y="1183.4" font-size="9.6" font-weight="bold" text-anchor="middle" fill="#000" textLength="15.5" lengthAdjust="spacingAndGlyphs" >102</text>
<text x="41.2" y="1183.4" font-size="10" font-weight="bold" text-anchor="start" fill="#000" textLength="87" lengthAdjust="spacingAndGlyphs" >КУХНЕНСКИ БОКС</text>
<text x="200.5" y="1183.4" font-size="9.4" font-weight="bold" text-anchor="middle" fill="#000" textLength="30" lengthAdjust="spacingAndGlyphs" >паркет</text>
<text x="273.05" y="1183.4" font-size="9.4" font-weight="bold" text-anchor="middle" fill="#000" textLength="29" lengthAdjust="spacingAndGlyphs" >латекс</text>
<text x="345.6" y="1183.4" font-size="9.4" font-weight="bold" text-anchor="middle" fill="#000" textLength="29" lengthAdjust="spacingAndGlyphs" >латекс</text>
<text x="399.1" y="1183.4" font-size="9.6" font-weight="bold" text-anchor="middle" fill="#000" textLength="18" lengthAdjust="spacingAndGlyphs" >2.93</text>
<text x="434.05" y="1183.4" font-size="9.6" font-weight="bold" text-anchor="middle" fill="#000" textLength="18" lengthAdjust="spacingAndGlyphs" >7,47</text>
<text x="469.5" y="1183.4" font-size="9.6" font-weight="bold" text-anchor="middle" fill="#000" textLength="18" lengthAdjust="spacingAndGlyphs" >6,67</text>
<text x="23.5" y="1205.2" font-size="9.6" font-weight="bold" text-anchor="middle" fill="#000" textLength="15.5" lengthAdjust="spacingAndGlyphs" >103</text>
<text x="41.2" y="1205.2" font-size="10" font-weight="bold" text-anchor="start" fill="#000" textLength="76" lengthAdjust="spacingAndGlyphs" >ВХОДНО АНТРЕ</text>
<text x="200.5" y="1205.2" font-size="9.4" font-weight="bold" text-anchor="middle" fill="#000" textLength="30" lengthAdjust="spacingAndGlyphs" >паркет</text>
<text x="273.05" y="1205.2" font-size="9.4" font-weight="bold" text-anchor="middle" fill="#000" textLength="29" lengthAdjust="spacingAndGlyphs" >латекс</text>
<text x="345.6" y="1205.2" font-size="9.4" font-weight="bold" text-anchor="middle" fill="#000" textLength="29" lengthAdjust="spacingAndGlyphs" >латекс</text>
<text x="399.1" y="1205.2" font-size="9.6" font-weight="bold" text-anchor="middle" fill="#000" textLength="18" lengthAdjust="spacingAndGlyphs" >2.93</text>
<text x="434.05" y="1205.2" font-size="9.6" font-weight="bold" text-anchor="middle" fill="#000" textLength="23" lengthAdjust="spacingAndGlyphs" >14,06</text>
<text x="469.5" y="1205.2" font-size="9.6" font-weight="bold" text-anchor="middle" fill="#000" textLength="24" lengthAdjust="spacingAndGlyphs" >14,09</text>
<text x="23.5" y="1227.1" font-size="9.6" font-weight="bold" text-anchor="middle" fill="#000" textLength="15.5" lengthAdjust="spacingAndGlyphs" >104</text>
<text x="41.2" y="1227.1" font-size="10" font-weight="bold" text-anchor="start" fill="#000" textLength="40" lengthAdjust="spacingAndGlyphs" >СПАЛНЯ</text>
<text x="200.5" y="1227.1" font-size="9.4" font-weight="bold" text-anchor="middle" fill="#000" textLength="30" lengthAdjust="spacingAndGlyphs" >паркет</text>
<text x="273.05" y="1227.1" font-size="9.4" font-weight="bold" text-anchor="middle" fill="#000" textLength="29" lengthAdjust="spacingAndGlyphs" >латекс</text>
<text x="345.6" y="1227.1" font-size="9.4" font-weight="bold" text-anchor="middle" fill="#000" textLength="29" lengthAdjust="spacingAndGlyphs" >латекс</text>
<text x="399.1" y="1227.1" font-size="9.6" font-weight="bold" text-anchor="middle" fill="#000" textLength="18" lengthAdjust="spacingAndGlyphs" >2.93</text>
<text x="434.05" y="1227.1" font-size="9.6" font-weight="bold" text-anchor="middle" fill="#000" textLength="23" lengthAdjust="spacingAndGlyphs" >14,92</text>
<text x="469.5" y="1227.1" font-size="9.6" font-weight="bold" text-anchor="middle" fill="#000" textLength="24" lengthAdjust="spacingAndGlyphs" >13,52</text>
<text x="23.5" y="1249" font-size="9.6" font-weight="bold" text-anchor="middle" fill="#000" textLength="15.5" lengthAdjust="spacingAndGlyphs" >105</text>
<text x="41.2" y="1249" font-size="10" font-weight="bold" text-anchor="start" fill="#000" textLength="46" lengthAdjust="spacingAndGlyphs" >БАНЯ-WC</text>
<text x="200.5" y="1249" font-size="9.4" font-weight="bold" text-anchor="middle" fill="#000" textLength="41" lengthAdjust="spacingAndGlyphs" >керамика</text>
<text x="273.05" y="1249" font-size="9.4" font-weight="bold" text-anchor="middle" fill="#000" textLength="27" lengthAdjust="spacingAndGlyphs" >фаянс</text>
<text x="345.6" y="1249" font-size="9.4" font-weight="bold" text-anchor="middle" fill="#000" textLength="29" lengthAdjust="spacingAndGlyphs" >латекс</text>
<text x="399.1" y="1249" font-size="9.6" font-weight="bold" text-anchor="middle" fill="#000" textLength="18" lengthAdjust="spacingAndGlyphs" >2.93</text>
<text x="434.05" y="1249" font-size="9.6" font-weight="bold" text-anchor="middle" fill="#000" textLength="18" lengthAdjust="spacingAndGlyphs" >8,64</text>
<text x="469.5" y="1249" font-size="9.6" font-weight="bold" text-anchor="middle" fill="#000" textLength="18" lengthAdjust="spacingAndGlyphs" >4,32</text>
<text x="23.5" y="1271" font-size="9.6" font-weight="bold" text-anchor="middle" fill="#000" textLength="15.5" lengthAdjust="spacingAndGlyphs" >106</text>
<text x="41.2" y="1271" font-size="10" font-weight="bold" text-anchor="start" fill="#000" textLength="31" lengthAdjust="spacingAndGlyphs" >КИЛЕР</text>
<text x="200.5" y="1271" font-size="9.4" font-weight="bold" text-anchor="middle" fill="#000" textLength="41" lengthAdjust="spacingAndGlyphs" >керамика</text>
<text x="273.05" y="1271" font-size="9.4" font-weight="bold" text-anchor="middle" fill="#000" textLength="29" lengthAdjust="spacingAndGlyphs" >латекс</text>
<text x="345.6" y="1271" font-size="9.4" font-weight="bold" text-anchor="middle" fill="#000" textLength="29" lengthAdjust="spacingAndGlyphs" >латекс</text>
<text x="399.1" y="1271" font-size="9.6" font-weight="bold" text-anchor="middle" fill="#000" textLength="18" lengthAdjust="spacingAndGlyphs" >2.93</text>
<text x="434.05" y="1271" font-size="9.6" font-weight="bold" text-anchor="middle" fill="#000" textLength="23" lengthAdjust="spacingAndGlyphs" >11,00</text>
<text x="469.5" y="1271" font-size="9.6" font-weight="bold" text-anchor="middle" fill="#000" textLength="18" lengthAdjust="spacingAndGlyphs" >6,13</text>
<text x="23.5" y="1293" font-size="9.6" font-weight="bold" text-anchor="middle" fill="#000" textLength="15.5" lengthAdjust="spacingAndGlyphs" >107</text>
<text x="41.2" y="1293" font-size="10" font-weight="bold" text-anchor="start" fill="#000" textLength="46" lengthAdjust="spacingAndGlyphs" >КОТЕЛНО</text>
<text x="200.5" y="1293" font-size="9.4" font-weight="bold" text-anchor="middle" fill="#000" textLength="41" lengthAdjust="spacingAndGlyphs" >керамика</text>
<text x="273.05" y="1293" font-size="9.4" font-weight="bold" text-anchor="middle" fill="#000" textLength="29" lengthAdjust="spacingAndGlyphs" >латекс</text>
<text x="345.6" y="1293" font-size="9.4" font-weight="bold" text-anchor="middle" fill="#000" textLength="29" lengthAdjust="spacingAndGlyphs" >латекс</text>
<text x="399.1" y="1293" font-size="9.6" font-weight="bold" text-anchor="middle" fill="#000" textLength="18" lengthAdjust="spacingAndGlyphs" >2.93</text>
<text x="434.05" y="1293" font-size="9.6" font-weight="bold" text-anchor="middle" fill="#000" textLength="23" lengthAdjust="spacingAndGlyphs" >10,46</text>
<text x="469.5" y="1293" font-size="9.6" font-weight="bold" text-anchor="middle" fill="#000" textLength="18" lengthAdjust="spacingAndGlyphs" >6,38</text>
<text x="23.5" y="1314.8" font-size="9.6" font-weight="bold" text-anchor="middle" fill="#000" textLength="15.5" lengthAdjust="spacingAndGlyphs" >108</text>
<text x="41.2" y="1314.8" font-size="10" font-weight="bold" text-anchor="start" fill="#000" textLength="39" lengthAdjust="spacingAndGlyphs" >ТЕРАСА</text>
<text x="200.5" y="1314.8" font-size="9.4" font-weight="bold" text-anchor="middle" fill="#000" textLength="28" lengthAdjust="spacingAndGlyphs" >камък</text>
<text x="273.05" y="1314.8" font-size="9.4" font-weight="bold" text-anchor="middle" fill="#000" textLength="3" lengthAdjust="spacingAndGlyphs" >-</text>
<text x="345.6" y="1314.8" font-size="9.4" font-weight="bold" text-anchor="middle" fill="#000" textLength="3" lengthAdjust="spacingAndGlyphs" >-</text>
<text x="399.1" y="1314.8" font-size="9.6" font-weight="bold" text-anchor="middle" fill="#000" textLength="18" lengthAdjust="spacingAndGlyphs" >2.93</text>
<text x="434.05" y="1314.8" font-size="9.6" font-weight="bold" text-anchor="middle" fill="#000" textLength="23" lengthAdjust="spacingAndGlyphs" >15,72</text>
<text x="469.5" y="1314.8" font-size="9.6" font-weight="bold" text-anchor="middle" fill="#000" textLength="24" lengthAdjust="spacingAndGlyphs" >13,68</text>
<text x="23.5" y="1336.7" font-size="9.6" font-weight="bold" text-anchor="middle" fill="#000" textLength="15.5" lengthAdjust="spacingAndGlyphs" >109</text>
<text x="41.2" y="1336.7" font-size="10" font-weight="bold" text-anchor="start" fill="#000" textLength="32" lengthAdjust="spacingAndGlyphs" >СКЛАД</text>
<text x="200.5" y="1336.7" font-size="9.4" font-weight="bold" text-anchor="middle" fill="#000" textLength="41" lengthAdjust="spacingAndGlyphs" >керамика</text>
<text x="273.05" y="1336.7" font-size="9.4" font-weight="bold" text-anchor="middle" fill="#000" textLength="29" lengthAdjust="spacingAndGlyphs" >латекс</text>
<text x="345.6" y="1336.7" font-size="9.4" font-weight="bold" text-anchor="middle" fill="#000" textLength="29" lengthAdjust="spacingAndGlyphs" >латекс</text>
<text x="399.1" y="1336.7" font-size="9.6" font-weight="bold" text-anchor="middle" fill="#000" textLength="18" lengthAdjust="spacingAndGlyphs" >2.93</text>
<text x="434.05" y="1336.7" font-size="9.6" font-weight="bold" text-anchor="middle" fill="#000" textLength="18" lengthAdjust="spacingAndGlyphs" >5,60</text>
<text x="469.5" y="1336.7" font-size="9.6" font-weight="bold" text-anchor="middle" fill="#000" textLength="18" lengthAdjust="spacingAndGlyphs" >1,78</text>
<text x="131.5" y="1262.7" font-size="29.5" font-weight="bold" text-anchor="start" fill="#c0444c" textLength="172" lengthAdjust="spacingAndGlyphs" fill-opacity="0.62" stroke="none">БГ БРОКЕР</text>
</g>
</svg>
</body></html>
